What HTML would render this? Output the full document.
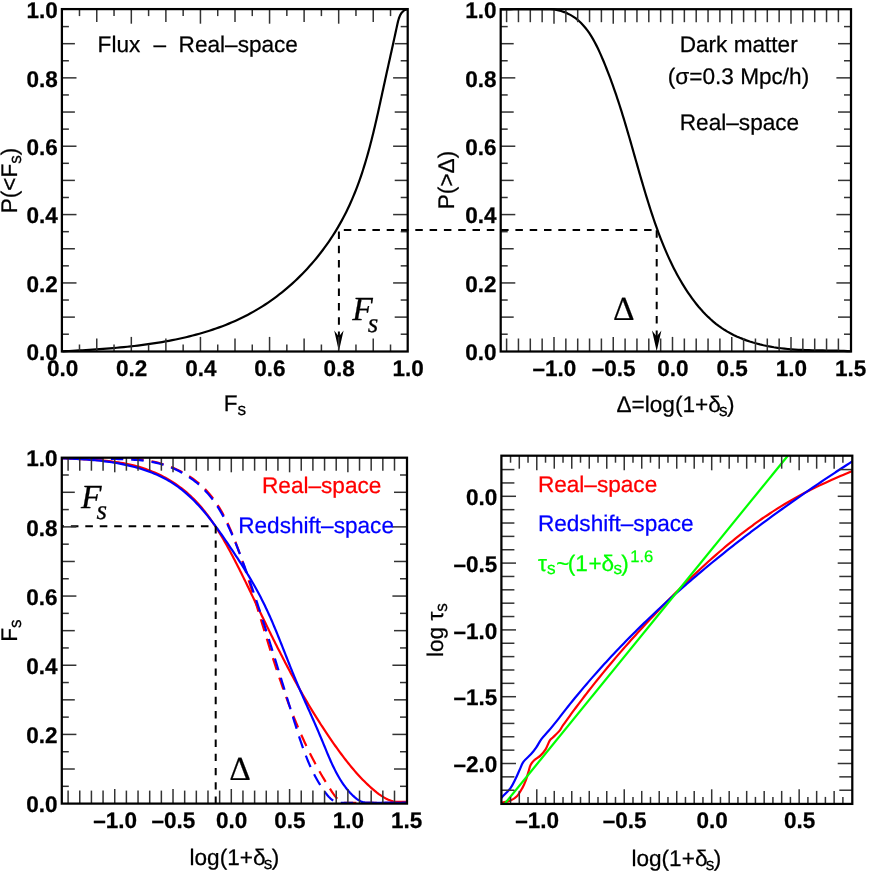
<!DOCTYPE html>
<html><head><meta charset="utf-8"><title>chart</title>
<style>html,body{margin:0;padding:0;background:#fff}svg{display:block;will-change:transform}text{text-rendering:geometricPrecision}</style></head>
<body>
<svg width="872" height="881" viewBox="0 0 872 881">
<rect width="872" height="881" fill="#fff"/>
<path d="M62.39 351.3L65.7 351.16L69.03 350.99L72.38 350.81L75.74 350.63L79.11 350.44L82.49 350.25L85.89 350.04L89.3 349.83L92.71 349.62L96.14 349.39L99.57 349.15L103.01 348.9L106.46 348.64L109.92 348.36L113.38 348.07L116.84 347.77L120.31 347.45L123.78 347.11L127.26 346.76L130.73 346.39L134.21 345.99L137.69 345.58L141.16 345.15L144.64 344.69L148.11 344.21L151.58 343.71L155.05 343.19L158.51 342.63L161.97 342.06L165.42 341.45L168.86 340.82L172.3 340.15L175.73 339.46L179.14 338.74L182.55 337.99L185.95 337.2L189.34 336.38L192.71 335.52L196.08 334.64L199.43 333.71L202.76 332.75L206.08 331.75L209.38 330.71L212.67 329.63L215.94 328.52L219.19 327.36L222.42 326.16L225.64 324.91L228.83 323.62L232 322.29L235.15 320.91L238.28 319.49L241.38 318.02L244.46 316.5L247.51 314.93L250.54 313.31L253.54 311.64L256.52 309.92L259.47 308.15L262.38 306.34L265.28 304.47L268.14 302.55L270.97 300.59L273.77 298.58L276.54 296.53L279.28 294.43L281.99 292.29L284.67 290.11L287.32 287.88L289.93 285.62L292.51 283.31L295.06 280.96L297.57 278.58L300.05 276.15L302.49 273.69L304.89 271.19L307.27 268.66L309.6 266.09L311.9 263.48L314.16 260.85L316.38 258.18L318.56 255.47L320.71 252.74L322.81 249.98L324.88 247.18L326.9 244.36L328.89 241.51L330.83 238.64L332.73 235.73L334.59 232.8L336.41 229.85L338.18 226.87L339.91 223.87L341.6 220.85L343.24 217.8L344.84 214.74L346.39 211.65L347.9 208.55L349.36 205.42L350.79 202.28L352.17 199.12L353.51 195.94L354.82 192.75L356.09 189.54L357.32 186.31L358.52 183.07L359.69 179.82L360.82 176.56L361.92 173.28L363 169.99L364.04 166.69L365.06 163.38L366.05 160.06L367.02 156.72L367.97 153.39L368.89 150.04L369.79 146.69L370.67 143.33L371.54 139.96L372.39 136.59L373.22 133.21L374.03 129.83L374.83 126.45L375.62 123.06L376.4 119.67L377.17 116.28L377.93 112.89L378.69 109.5L379.43 106.11L380.17 102.72L380.91 99.33L381.65 95.95L382.38 92.57L383.12 89.19L383.85 85.81L384.59 82.44L385.33 79.08L386.06 75.71L386.8 72.35L387.55 68.99L388.29 65.63L389.03 62.26L389.77 58.9L390.52 55.53L391.26 52.16L392.01 48.78L392.75 45.4L393.5 42.01L394.24 38.62L394.99 35.21L395.73 31.8L396.48 28.38L397.22 24.95L397.99 21.53L398.93 18.23L400.19 15.16L401.91 12.45L404.27 10.21L407.4 9.3" fill="none" stroke="#000" stroke-width="2.2" stroke-linejoin="round"/>
<path d="M500.87 9.31L503.94 9.43L507.15 9.44L510.49 9.37L513.93 9.24L517.46 9.1L521.07 9.1L524.73 9.1L528.43 9.1L532.16 9.1L535.9 9.1L539.63 9.1L543.34 9.1L547.02 9.1L550.63 9.1L554.18 9.43L557.64 10.13L561.01 11.02L564.25 12.1L567.38 13.39L570.36 14.87L573.19 16.57L575.88 18.45L578.43 20.53L580.85 22.77L583.14 25.17L585.32 27.72L587.39 30.4L589.36 33.2L591.24 36.11L593.03 39.12L594.74 42.2L596.38 45.37L597.96 48.59L599.48 51.85L600.95 55.15L602.38 58.47L603.78 61.8L605.14 65.13L606.48 68.47L607.79 71.8L609.07 75.14L610.32 78.48L611.55 81.82L612.76 85.16L613.95 88.51L615.11 91.85L616.25 95.2L617.37 98.55L618.48 101.9L619.57 105.25L620.64 108.6L621.69 111.95L622.73 115.31L623.76 118.66L624.78 122.02L625.78 125.37L626.78 128.73L627.76 132.08L628.74 135.44L629.71 138.8L630.68 142.16L631.64 145.51L632.6 148.87L633.55 152.23L634.5 155.59L635.46 158.94L636.41 162.3L637.36 165.66L638.32 169.01L639.28 172.37L640.25 175.72L641.22 179.08L642.2 182.43L643.18 185.78L644.18 189.13L645.18 192.48L646.2 195.83L647.22 199.18L648.26 202.53L649.32 205.87L650.39 209.22L651.48 212.56L652.58 215.9L653.7 219.24L654.85 222.57L656.01 225.9L657.2 229.22L658.41 232.53L659.65 235.84L660.91 239.13L662.21 242.42L663.53 245.69L664.89 248.95L666.28 252.19L667.7 255.42L669.16 258.63L670.66 261.83L672.2 265.01L673.77 268.16L675.39 271.3L677.05 274.41L678.76 277.5L680.51 280.56L682.31 283.6L684.16 286.62L686.05 289.6L688 292.55L690 295.47L692.06 298.35L694.17 301.18L696.34 303.95L698.57 306.68L700.86 309.34L703.21 311.94L705.63 314.47L708.11 316.92L710.65 319.29L713.26 321.58L715.94 323.78L718.69 325.89L721.51 327.9L724.41 329.8L727.37 331.6L730.41 333.3L733.5 334.9L736.65 336.4L739.86 337.81L743.11 339.13L746.41 340.36L749.75 341.5L753.12 342.56L756.53 343.53L759.97 344.43L763.42 345.25L766.9 345.99L770.39 346.66L773.89 347.27L777.4 347.8L780.91 348.27L784.41 348.68L787.91 349.03L791.41 349.32L794.91 349.57L798.41 349.78L801.9 349.95L805.4 350.08L808.89 350.19L812.39 350.28L815.88 350.35L819.38 350.41L822.88 350.46L826.38 350.51L829.88 350.57L833.39 350.63L836.9 350.71L840.41 350.8L843.93 350.93L847.46 351.08L850.99 351.26" fill="none" stroke="#000" stroke-width="2.2" stroke-linejoin="round"/>
<clipPath id="c3"><rect x="61.8" y="457.7" width="345.2" height="345.9"/></clipPath>
<g clip-path="url(#c3)">
<path d="M56.44 457.93L58.78 458.07L61.12 458.19L63.47 458.31L65.83 458.43L68.19 458.54L70.56 458.64L72.93 458.75L75.31 458.85L77.69 458.96L80.07 459.07L82.45 459.19L84.84 459.31L87.23 459.43L89.62 459.57L92.01 459.72L94.39 459.87L96.78 460.04L99.17 460.23L101.56 460.43L103.94 460.65L106.32 460.88L108.7 461.14L111.07 461.42L113.44 461.72L115.8 462.04L118.16 462.39L120.51 462.77L122.86 463.17L125.2 463.61L127.53 464.08L129.86 464.58L132.17 465.11L134.48 465.68L136.78 466.28L139.06 466.93L141.34 467.61L143.6 468.34L145.86 469.1L148.1 469.91L150.32 470.76L152.54 471.65L154.73 472.58L156.91 473.55L159.07 474.56L161.22 475.61L163.34 476.7L165.44 477.83L167.52 479L169.58 480.2L171.61 481.44L173.62 482.72L175.6 484.03L177.56 485.38L179.49 486.77L181.39 488.19L183.26 489.65L185.1 491.14L186.91 492.66L188.68 494.22L190.43 495.82L192.14 497.44L193.82 499.1L195.47 500.79L197.09 502.51L198.68 504.25L200.24 506.02L201.78 507.82L203.29 509.64L204.77 511.49L206.23 513.36L207.67 515.25L209.08 517.16L210.47 519.1L211.84 521.05L213.19 523.01L214.51 525L215.82 527L217.11 529.02L218.39 531.05L219.64 533.09L220.88 535.14L222.11 537.2L223.32 539.28L224.51 541.36L225.7 543.45L226.87 545.54L228.03 547.64L229.18 549.75L230.32 551.85L231.45 553.96L232.57 556.08L233.68 558.2L234.79 560.32L235.88 562.44L236.97 564.56L238.05 566.69L239.13 568.82L240.2 570.95L241.26 573.09L242.32 575.22L243.37 577.36L244.42 579.5L245.47 581.64L246.51 583.78L247.55 585.92L248.58 588.06L249.61 590.21L250.64 592.35L251.67 594.49L252.7 596.64L253.73 598.78L254.75 600.93L255.78 603.07L256.81 605.22L257.83 607.36L258.86 609.5L259.89 611.64L260.92 613.79L261.96 615.93L262.99 618.07L264.03 620.2L265.06 622.34L266.1 624.48L267.14 626.61L268.19 628.75L269.23 630.88L270.28 633.01L271.33 635.14L272.39 637.27L273.44 639.4L274.5 641.52L275.57 643.65L276.63 645.77L277.7 647.89L278.77 650.01L279.85 652.12L280.93 654.24L282.01 656.35L283.1 658.46L284.19 660.57L285.29 662.67L286.39 664.78L287.5 666.88L288.61 668.98L289.72 671.07L290.84 673.16L291.97 675.26L293.1 677.34L294.23 679.43L295.37 681.51L296.52 683.59L297.67 685.67L298.83 687.74L299.99 689.81L301.16 691.88L302.34 693.94L303.52 696L304.71 698.06L305.91 700.11L307.11 702.16L308.32 704.21L309.54 706.25L310.76 708.29L312 710.33L313.23 712.36L314.48 714.39L315.73 716.41L317 718.43L318.27 720.45L319.54 722.46L320.83 724.47L322.13 726.47L323.43 728.47L324.74 730.46L326.06 732.45L327.39 734.44L328.73 736.42L330.08 738.4L331.43 740.37L332.8 742.33L334.18 744.3L335.56 746.25L336.96 748.21L338.36 750.15L339.78 752.09L341.2 754.02L342.64 755.95L344.09 757.86L345.56 759.77L347.04 761.66L348.53 763.54L350.04 765.4L351.56 767.25L353.1 769.08L354.65 770.89L356.22 772.69L357.81 774.46L359.42 776.22L361.04 777.95L362.69 779.66L364.35 781.34L366.04 783L367.75 784.63L369.48 786.23L371.23 787.81L373 789.35L374.8 790.86L376.62 792.34L378.48 793.77L380.37 795.14L382.3 796.43L384.27 797.64L386.3 798.74L388.39 799.73L390.54 800.59L392.76 801.31L395.05 801.87L397.42 801.9L399.88 801.9L408 801.9" fill="none" stroke="#ff0000" stroke-width="2.2" stroke-linejoin="round"/>
<path d="M56.42 457.9L58.69 457.95L60.97 458.1L63.25 458.23L65.54 458.33L67.83 458.41L70.12 458.47L72.42 458.51L74.73 458.54L77.03 458.55L79.34 458.54L81.65 458.53L83.97 458.5L86.28 458.47L88.6 458.43L90.92 458.39L93.24 458.34L95.56 458.29L97.89 458.25L100.21 458.2L102.53 458.16L104.86 458.12L107.18 458.09L109.5 458.07L111.82 458.06L114.15 458.06L116.46 458.08L118.78 458.11L121.1 458.16L123.41 458.23L125.72 458.32L128.03 458.43L130.33 458.56L132.63 458.73L134.93 458.91L137.22 459.13L139.51 459.38L141.8 459.66L144.08 459.98L146.35 460.33L148.62 460.72L150.88 461.15L153.14 461.62L155.39 462.13L157.63 462.69L159.87 463.29L162.1 463.94L164.32 464.63L166.52 465.37L168.71 466.15L170.88 466.98L173.04 467.85L175.18 468.77L177.29 469.73L179.39 470.74L181.45 471.79L183.5 472.88L185.51 474.02L187.5 475.2L189.45 476.43L191.37 477.69L193.25 479.01L195.1 480.36L196.91 481.76L198.68 483.2L200.41 484.68L202.1 486.21L203.74 487.78L205.33 489.39L206.89 491.04L208.4 492.72L209.87 494.45L211.3 496.21L212.7 498L214.05 499.83L215.37 501.69L216.66 503.57L217.91 505.49L219.13 507.43L220.32 509.4L221.48 511.4L222.61 513.41L223.71 515.45L224.78 517.51L225.82 519.59L226.85 521.69L227.85 523.8L228.82 525.92L229.77 528.07L230.71 530.22L231.62 532.38L232.52 534.55L233.4 536.73L234.26 538.92L235.11 541.11L235.95 543.31L236.77 545.51L237.58 547.71L238.38 549.91L239.17 552.11L239.95 554.3L240.73 556.5L241.49 558.69L242.25 560.88L243 563.07L243.75 565.26L244.49 567.45L245.22 569.63L245.94 571.82L246.66 574L247.38 576.18L248.09 578.37L248.79 580.55L249.49 582.73L250.19 584.92L250.88 587.1L251.57 589.28L252.25 591.47L252.94 593.65L253.62 595.84L254.29 598.02L254.97 600.21L255.65 602.4L256.32 604.59L256.99 606.78L257.66 608.97L258.34 611.16L259.01 613.36L259.68 615.55L260.35 617.75L261.02 619.95L261.7 622.14L262.37 624.34L263.04 626.54L263.72 628.74L264.39 630.95L265.07 633.15L265.75 635.35L266.43 637.55L267.11 639.75L267.8 641.95L268.48 644.16L269.17 646.36L269.86 648.56L270.56 650.76L271.25 652.96L271.95 655.16L272.65 657.36L273.36 659.56L274.07 661.76L274.78 663.96L275.5 666.15L276.22 668.35L276.95 670.54L277.68 672.73L278.41 674.93L279.15 677.12L279.9 679.3L280.65 681.49L281.4 683.68L282.16 685.86L282.93 688.04L283.7 690.22L284.47 692.4L285.26 694.57L286.05 696.74L286.84 698.91L287.65 701.08L288.46 703.25L289.27 705.41L290.1 707.57L290.93 709.73L291.77 711.88L292.61 714.03L293.47 716.18L294.33 718.32L295.2 720.47L296.08 722.6L296.97 724.74L297.86 726.87L298.77 729L299.68 731.12L300.6 733.24L301.54 735.35L302.48 737.46L303.43 739.57L304.39 741.67L305.36 743.76L306.35 745.85L307.34 747.94L308.34 750.01L309.35 752.09L310.38 754.15L311.42 756.22L312.46 758.27L313.52 760.32L314.59 762.36L315.67 764.39L316.77 766.42L317.87 768.44L318.99 770.46L320.12 772.46L321.27 774.46L322.42 776.45L323.59 778.43L324.77 780.41L325.97 782.37L327.18 784.33L328.4 786.28L329.64 788.21L330.89 790.14L332.15 792.07L333.44 793.97L334.78 795.82L336.2 797.57L337.74 799.18L339.44 800.6L341.33 801.8L343.44 802.72L345.82 802.9L408 802.9" fill="none" stroke="#ff0000" stroke-width="2.2" stroke-linejoin="round" stroke-dasharray="12.4 8" stroke-dashoffset="6.7"/>
<path d="M56.66 458.26L58.84 458.31L61.04 458.35L63.25 458.41L65.48 458.47L67.72 458.54L69.97 458.62L72.24 458.71L74.51 458.8L76.79 458.91L79.09 459.03L81.39 459.16L83.7 459.31L86.01 459.47L88.33 459.64L90.66 459.82L92.99 460.03L95.32 460.24L97.65 460.48L99.99 460.73L102.33 461L104.66 461.29L107 461.6L109.33 461.92L111.66 462.27L113.99 462.64L116.32 463.03L118.64 463.45L120.95 463.88L123.26 464.35L125.55 464.83L127.85 465.34L130.13 465.88L132.4 466.45L134.66 467.04L136.91 467.66L139.14 468.31L141.37 468.98L143.58 469.69L145.77 470.43L147.95 471.2L150.11 472L152.26 472.83L154.38 473.7L156.49 474.6L158.58 475.54L160.64 476.51L162.69 477.52L164.71 478.56L166.71 479.64L168.69 480.76L170.64 481.92L172.56 483.12L174.46 484.35L176.33 485.63L178.18 486.95L180 488.3L181.8 489.69L183.57 491.11L185.31 492.57L187.04 494.06L188.74 495.59L190.42 497.14L192.08 498.72L193.72 500.33L195.33 501.97L196.93 503.64L198.51 505.33L200.07 507.04L201.61 508.77L203.14 510.53L204.64 512.3L206.14 514.1L207.61 515.91L209.08 517.74L210.52 519.58L211.96 521.44L213.38 523.31L214.78 525.2L216.18 527.09L217.56 528.99L218.94 530.91L220.3 532.82L221.66 534.75L223 536.68L224.34 538.61L225.66 540.55L226.99 542.48L228.3 544.42L229.61 546.36L230.91 548.29L232.21 550.22L233.5 552.16L234.78 554.09L236.06 556.02L237.33 557.95L238.59 559.89L239.84 561.82L241.08 563.76L242.32 565.7L243.55 567.64L244.77 569.58L245.98 571.53L247.18 573.48L248.37 575.44L249.55 577.4L250.72 579.37L251.87 581.34L253.02 583.32L254.16 585.3L255.28 587.29L256.39 589.29L257.49 591.29L258.58 593.31L259.66 595.33L260.72 597.36L261.77 599.4L262.8 601.45L263.82 603.51L264.83 605.58L265.82 607.66L266.81 609.75L267.78 611.84L268.74 613.95L269.69 616.06L270.63 618.17L271.56 620.3L272.48 622.43L273.39 624.57L274.29 626.71L275.19 628.85L276.08 631L276.97 633.16L277.85 635.32L278.72 637.48L279.59 639.64L280.46 641.81L281.32 643.97L282.18 646.14L283.03 648.31L283.89 650.48L284.74 652.65L285.6 654.82L286.45 656.99L287.3 659.15L288.16 661.32L289.02 663.48L289.88 665.64L290.74 667.8L291.6 669.95L292.47 672.1L293.34 674.24L294.22 676.38L295.1 678.52L295.99 680.64L296.89 682.77L297.79 684.88L298.69 687L299.6 689.1L300.52 691.21L301.43 693.31L302.36 695.41L303.28 697.51L304.21 699.6L305.14 701.7L306.07 703.79L307 705.88L307.94 707.98L308.87 710.07L309.81 712.17L310.74 714.27L311.68 716.37L312.61 718.47L313.54 720.57L314.47 722.68L315.4 724.8L316.32 726.92L317.25 729.04L318.17 731.17L319.08 733.31L319.99 735.45L320.9 737.6L321.8 739.76L322.7 741.92L323.59 744.09L324.48 746.27L325.38 748.45L326.28 750.62L327.18 752.8L328.09 754.97L329.01 757.14L329.95 759.29L330.9 761.44L331.87 763.58L332.85 765.7L333.86 767.8L334.9 769.88L335.96 771.95L337.05 773.99L338.17 776L339.32 777.99L340.51 779.95L341.74 781.88L343.01 783.77L344.32 785.63L345.67 787.46L347.07 789.24L348.53 790.98L350.03 792.67L351.59 794.33L353.21 795.92L354.89 797.43L356.66 798.83L358.51 800.08L360.47 801.16L362.53 802.04L364.72 802.68L367.04 802.9L369.5 802.9L372.12 802.9L408 802.9" fill="none" stroke="#0000ff" stroke-width="2.2" stroke-linejoin="round"/>
<path d="M56.4 457.91L58.73 457.9L61.06 457.9L63.38 457.9L65.7 457.9L68.02 457.9L70.33 457.9L72.64 457.9L74.94 457.9L77.25 457.9L79.55 457.9L81.85 457.9L84.15 457.9L86.45 457.9L88.74 457.9L91.04 457.94L93.34 458.03L95.63 458.13L97.93 458.22L100.23 458.32L102.52 458.42L104.82 458.52L107.13 458.62L109.43 458.72L111.73 458.82L114.04 458.91L116.35 458.99L118.67 459.07L120.98 459.16L123.3 459.24L125.61 459.33L127.93 459.44L130.25 459.55L132.56 459.68L134.87 459.83L137.18 460.01L139.49 460.21L141.79 460.44L144.08 460.7L146.37 461L148.65 461.34L150.93 461.72L153.2 462.15L155.46 462.63L157.7 463.16L159.94 463.75L162.17 464.39L164.38 465.08L166.58 465.82L168.76 466.62L170.93 467.46L173.07 468.36L175.19 469.3L177.29 470.3L179.37 471.34L181.42 472.42L183.44 473.56L185.44 474.74L187.4 475.96L189.34 477.23L191.24 478.54L193.1 479.9L194.93 481.29L196.72 482.73L198.47 484.21L200.18 485.73L201.85 487.29L203.47 488.89L205.06 490.52L206.6 492.19L208.1 493.89L209.57 495.63L211 497.4L212.39 499.2L213.74 501.04L215.07 502.9L216.36 504.78L217.61 506.7L218.84 508.63L220.04 510.6L221.21 512.58L222.35 514.59L223.46 516.61L224.55 518.65L225.62 520.72L226.66 522.79L227.68 524.89L228.68 526.99L229.66 529.11L230.62 531.24L231.57 533.38L232.5 535.53L233.41 537.69L234.31 539.86L235.2 542.02L236.07 544.2L236.93 546.37L237.79 548.55L238.63 550.73L239.47 552.9L240.3 555.08L241.12 557.26L241.94 559.43L242.75 561.6L243.55 563.78L244.35 565.95L245.14 568.12L245.93 570.3L246.71 572.47L247.48 574.64L248.25 576.81L249.01 578.99L249.77 581.16L250.53 583.33L251.28 585.51L252.02 587.68L252.76 589.85L253.5 592.03L254.24 594.2L254.97 596.38L255.7 598.56L256.42 600.73L257.14 602.91L257.86 605.09L258.58 607.27L259.3 609.45L260.01 611.64L260.72 613.82L261.43 616L262.14 618.19L262.85 620.38L263.55 622.56L264.25 624.75L264.95 626.94L265.65 629.13L266.35 631.32L267.05 633.52L267.74 635.71L268.43 637.9L269.13 640.1L269.82 642.29L270.51 644.49L271.2 646.69L271.88 648.89L272.57 651.09L273.26 653.29L273.94 655.49L274.63 657.69L275.31 659.89L275.99 662.1L276.67 664.3L277.36 666.5L278.04 668.71L278.72 670.92L279.4 673.12L280.08 675.33L280.76 677.54L281.44 679.75L282.12 681.96L282.8 684.17L283.48 686.38L284.16 688.59L284.84 690.8L285.53 693.01L286.21 695.23L286.89 697.44L287.57 699.65L288.25 701.87L288.94 704.08L289.62 706.3L290.31 708.52L290.99 710.73L291.68 712.95L292.37 715.17L293.06 717.39L293.75 719.6L294.44 721.82L295.13 724.04L295.82 726.26L296.52 728.48L297.22 730.7L297.92 732.92L298.63 735.13L299.35 737.34L300.08 739.55L300.82 741.75L301.56 743.94L302.32 746.13L303.09 748.32L303.88 750.49L304.68 752.66L305.5 754.82L306.34 756.97L307.2 759.11L308.07 761.23L308.97 763.35L309.89 765.45L310.83 767.54L311.8 769.61L312.8 771.67L313.82 773.72L314.87 775.75L315.95 777.76L317.07 779.75L318.21 781.73L319.39 783.68L320.6 785.62L321.85 787.54L323.13 789.43L324.45 791.3L325.81 793.15L327.22 794.96L328.71 796.69L330.28 798.3L331.98 799.75L333.82 800.99L335.82 801.98L338.01 802.68L340.42 802.9L343.06 802.9L408 802.9" fill="none" stroke="#0000ff" stroke-width="2.2" stroke-linejoin="round" stroke-dasharray="12.4 8" stroke-dashoffset="6.7"/>
</g>
<clipPath id="c4"><rect x="501.4" y="455.7" width="350.9" height="348.2"/></clipPath>
<g clip-path="url(#c4)">
<path d="M501.4 803C501.62 802.93 501.18 803.02 502.7 802.6C504.22 802.18 508.08 801.62 510.5 800.5C512.92 799.38 515.23 797.97 517.2 795.9C519.17 793.83 520.83 790.77 522.3 788.1C523.77 785.43 524.97 782.65 526 779.9C527.03 777.15 527.73 774.1 528.5 771.6C529.27 769.1 529.65 766.78 530.6 764.9C531.55 763.02 532.57 761.85 534.2 760.3C535.83 758.75 538.5 757.42 540.4 755.6C542.3 753.78 544.05 751.9 545.6 749.4C547.15 746.9 548.5 742.58 549.7 740.6C550.9 738.62 551.25 739.03 552.8 737.5C554.35 735.97 557.28 733.45 559 731.4C560.72 729.35 561.13 728.02 563.1 725.2C565.07 722.38 568.88 717.13 570.82 714.45C572.76 711.77 573.43 710.89 574.75 709.12C576.06 707.35 577.38 705.59 578.71 703.83C580.03 702.07 581.36 700.31 582.7 698.56C584.04 696.81 585.39 695.06 586.74 693.32C588.09 691.58 589.45 689.84 590.81 688.11C592.17 686.37 593.54 684.64 594.92 682.92C596.29 681.2 597.67 679.48 599.06 677.76C600.45 676.05 601.84 674.34 603.24 672.63C604.63 670.93 606.04 669.23 607.45 667.53C608.86 665.84 610.27 664.15 611.69 662.46C613.11 660.77 614.54 659.09 615.97 657.41C617.4 655.73 618.84 654.06 620.28 652.39C621.72 650.72 623.17 649.05 624.63 647.39C626.08 645.73 627.54 644.08 629 642.43C630.46 640.77 631.93 639.13 633.41 637.48C634.88 635.84 636.36 634.2 637.84 632.57C639.33 630.93 640.82 629.3 642.31 627.67C643.8 626.05 645.3 624.43 646.81 622.81C648.31 621.19 649.82 619.58 651.33 617.97C652.84 616.36 654.36 614.75 655.88 613.15C657.41 611.55 658.93 609.95 660.47 608.36C662 606.77 663.53 605.18 665.07 603.59C666.61 602.01 668.16 600.43 669.71 598.85C671.26 597.27 672.81 595.7 674.37 594.13C675.93 592.56 677.49 591 679.06 589.44C680.63 587.88 682.2 586.33 683.78 584.78C685.36 583.23 686.94 581.69 688.53 580.15C690.12 578.62 691.72 577.09 693.32 575.56C694.92 574.04 696.52 572.52 698.14 571.01C699.75 569.5 701.37 568 702.99 566.51C704.62 565.01 706.25 563.52 707.88 562.04C709.52 560.57 711.17 559.09 712.82 557.63C714.47 556.17 716.13 554.72 717.79 553.27C719.46 551.83 721.13 550.39 722.81 548.97C724.49 547.54 726.18 546.13 727.88 544.72C729.57 543.32 731.27 541.92 732.99 540.54C734.7 539.15 736.42 537.78 738.14 536.42C739.87 535.06 741.61 533.7 743.35 532.37C745.1 531.03 746.85 529.7 748.61 528.38C750.38 527.07 752.15 525.77 753.93 524.48C755.71 523.19 757.5 521.91 759.3 520.65C761.09 519.38 762.9 518.13 764.72 516.9C766.54 515.66 768.37 514.44 770.21 513.23C772.04 512.02 773.89 510.83 775.75 509.65C777.61 508.47 779.48 507.31 781.36 506.16C783.23 505.01 785.12 503.88 787.02 502.76C788.92 501.64 790.83 500.54 792.74 499.45C794.66 498.35 796.59 497.28 798.52 496.22C800.46 495.16 802.4 494.11 804.35 493.08C806.31 492.05 808.27 491.03 810.24 490.02C812.21 489.02 814.19 488.03 816.17 487.06C818.16 486.08 820.15 485.12 822.16 484.18C824.16 483.23 826.17 482.3 828.19 481.38C830.21 480.46 832.23 479.56 834.26 478.67C836.3 477.78 838.34 476.9 840.38 476.04C842.43 475.17 844.48 474.33 846.54 473.49C848.6 472.66 851.71 471.44 852.74 471.03" fill="none" stroke="#ff0000" stroke-width="2.2" stroke-linejoin="round"/>
<path d="M501.4 797.6C501.53 797.48 500.68 798.48 502.2 796.9C503.72 795.32 508.27 791.12 510.5 788.1C512.73 785.08 514.05 781.9 515.6 778.8C517.15 775.7 518.5 772.33 519.8 769.5C521.1 766.67 521.52 764.37 523.4 761.8C525.28 759.23 528.95 756.5 531.1 754.1C533.25 751.7 534.58 749.9 536.3 747.4C538.02 744.9 539.33 741.87 541.4 739.1C543.47 736.33 546.03 733.97 548.7 730.8C551.37 727.63 555.27 722.78 557.44 720.08C559.6 717.37 560.26 716.4 561.68 714.57C563.1 712.74 564.53 710.92 565.97 709.1C567.41 707.28 568.85 705.48 570.3 703.67C571.75 701.87 573.21 700.07 574.68 698.29C576.15 696.5 577.62 694.71 579.1 692.94C580.58 691.16 582.07 689.39 583.56 687.63C585.06 685.86 586.56 684.11 588.07 682.36C589.58 680.61 591.09 678.86 592.62 677.13C594.14 675.39 595.67 673.66 597.2 671.93C598.74 670.21 600.28 668.49 601.83 666.78C603.38 665.06 604.93 663.36 606.5 661.66C608.06 659.96 609.63 658.27 611.2 656.58C612.78 654.89 614.36 653.21 615.95 651.53C617.53 649.86 619.13 648.19 620.73 646.53C622.33 644.86 623.93 643.21 625.54 641.56C627.16 639.9 628.77 638.26 630.4 636.62C632.02 634.98 633.65 633.35 635.29 631.72C636.92 630.09 638.57 628.47 640.21 626.86C641.86 625.24 643.51 623.63 645.17 622.03C646.83 620.42 648.5 618.82 650.17 617.23C651.84 615.64 653.51 614.05 655.19 612.47C656.87 610.89 658.56 609.31 660.25 607.74C661.94 606.17 663.64 604.61 665.34 603.05C667.04 601.49 668.75 599.94 670.46 598.39C672.18 596.84 673.89 595.3 675.62 593.76C677.34 592.22 679.07 590.69 680.8 589.16C682.53 587.64 684.27 586.12 686.01 584.6C687.75 583.08 689.5 581.57 691.25 580.07C693 578.56 694.76 577.06 696.52 575.57C698.28 574.07 700.05 572.58 701.82 571.1C703.58 569.61 705.36 568.13 707.14 566.66C708.92 565.19 710.7 563.72 712.49 562.25C714.27 560.79 716.07 559.33 717.86 557.87C719.66 556.42 721.46 554.97 723.26 553.53C725.07 552.08 726.87 550.64 728.69 549.21C730.5 547.77 732.31 546.34 734.13 544.92C735.95 543.49 737.78 542.07 739.6 540.66C741.43 539.24 743.26 537.83 745.1 536.42C746.93 535.02 748.77 533.62 750.61 532.22C752.45 530.82 754.3 529.43 756.15 528.04C758 526.65 759.85 525.27 761.7 523.89C763.56 522.51 765.42 521.14 767.28 519.77C769.14 518.4 771.01 517.04 772.88 515.67C774.75 514.31 776.62 512.96 778.49 511.61C780.37 510.25 782.24 508.91 784.12 507.56C786 506.22 787.89 504.88 789.77 503.54C791.66 502.21 793.55 500.88 795.44 499.55C797.33 498.23 799.23 496.9 801.12 495.58C803.02 494.27 804.92 492.95 806.82 491.64C808.72 490.33 810.63 489.03 812.54 487.72C814.44 486.42 816.35 485.12 818.26 483.83C820.17 482.54 822.09 481.24 824 479.96C825.92 478.67 827.84 477.39 829.76 476.11C831.68 474.83 833.6 473.56 835.52 472.29C837.45 471.02 839.38 469.75 841.3 468.48C843.23 467.22 845.16 465.96 847.09 464.71C849.02 463.45 851.93 461.57 852.89 460.95" fill="none" stroke="#0000ff" stroke-width="2.2" stroke-linejoin="round"/>
<path d="M504.6 803.9L787.6 456" fill="none" stroke="#00ff00" stroke-width="2.2" stroke-linejoin="round"/>
</g>
<line x1="338.9" y1="229.9" x2="656.7" y2="229.9" stroke="#000" stroke-width="2" stroke-dasharray="7.5 6.8" stroke-dashoffset="9.4"/>
<line x1="338.9" y1="231.4" x2="338.9" y2="337" stroke="#000" stroke-width="2" stroke-dasharray="7.5 6.8"/>
<line x1="656.7" y1="230.3" x2="656.7" y2="337" stroke="#000" stroke-width="2" stroke-dasharray="7.5 6.8"/>
<path d="M338.9 351.2 L334.2 330.6 L338.9 336.4 L343.6 330.6 Z" fill="#000"/>
<path d="M656.7 351.2 L652 330.6 L656.7 336.4 L661.4 330.6 Z" fill="#000"/>
<line x1="61.8" y1="526.2" x2="215.7" y2="526.2" stroke="#000" stroke-width="2" stroke-dasharray="7.6 6.85" stroke-dashoffset="5.4"/>
<line x1="215.7" y1="526.2" x2="215.7" y2="803.6" stroke="#000" stroke-width="2" stroke-dasharray="7.4 6.82"/>
<line x1="79.48" y1="351.5" x2="79.48" y2="344.5" stroke="#333" stroke-width="1.5"/>
<line x1="79.48" y1="9.1" x2="79.48" y2="16.1" stroke="#333" stroke-width="1.5"/>
<line x1="96.76" y1="351.5" x2="96.76" y2="338.5" stroke="#333" stroke-width="1.5"/>
<line x1="96.76" y1="9.1" x2="96.76" y2="22.1" stroke="#333" stroke-width="1.5"/>
<line x1="114.04" y1="351.5" x2="114.04" y2="344.5" stroke="#333" stroke-width="1.5"/>
<line x1="114.04" y1="9.1" x2="114.04" y2="16.1" stroke="#333" stroke-width="1.5"/>
<line x1="131.32" y1="351.5" x2="131.32" y2="336.9" stroke="#333" stroke-width="1.5"/>
<line x1="131.32" y1="9.1" x2="131.32" y2="23.7" stroke="#333" stroke-width="1.5"/>
<line x1="148.6" y1="351.5" x2="148.6" y2="344.5" stroke="#333" stroke-width="1.5"/>
<line x1="148.6" y1="9.1" x2="148.6" y2="16.1" stroke="#333" stroke-width="1.5"/>
<line x1="165.88" y1="351.5" x2="165.88" y2="338.5" stroke="#333" stroke-width="1.5"/>
<line x1="165.88" y1="9.1" x2="165.88" y2="22.1" stroke="#333" stroke-width="1.5"/>
<line x1="183.16" y1="351.5" x2="183.16" y2="344.5" stroke="#333" stroke-width="1.5"/>
<line x1="183.16" y1="9.1" x2="183.16" y2="16.1" stroke="#333" stroke-width="1.5"/>
<line x1="200.44" y1="351.5" x2="200.44" y2="336.9" stroke="#333" stroke-width="1.5"/>
<line x1="200.44" y1="9.1" x2="200.44" y2="23.7" stroke="#333" stroke-width="1.5"/>
<line x1="217.72" y1="351.5" x2="217.72" y2="344.5" stroke="#333" stroke-width="1.5"/>
<line x1="217.72" y1="9.1" x2="217.72" y2="16.1" stroke="#333" stroke-width="1.5"/>
<line x1="235" y1="351.5" x2="235" y2="338.5" stroke="#333" stroke-width="1.5"/>
<line x1="235" y1="9.1" x2="235" y2="22.1" stroke="#333" stroke-width="1.5"/>
<line x1="252.28" y1="351.5" x2="252.28" y2="344.5" stroke="#333" stroke-width="1.5"/>
<line x1="252.28" y1="9.1" x2="252.28" y2="16.1" stroke="#333" stroke-width="1.5"/>
<line x1="269.56" y1="351.5" x2="269.56" y2="336.9" stroke="#333" stroke-width="1.5"/>
<line x1="269.56" y1="9.1" x2="269.56" y2="23.7" stroke="#333" stroke-width="1.5"/>
<line x1="286.84" y1="351.5" x2="286.84" y2="344.5" stroke="#333" stroke-width="1.5"/>
<line x1="286.84" y1="9.1" x2="286.84" y2="16.1" stroke="#333" stroke-width="1.5"/>
<line x1="304.12" y1="351.5" x2="304.12" y2="338.5" stroke="#333" stroke-width="1.5"/>
<line x1="304.12" y1="9.1" x2="304.12" y2="22.1" stroke="#333" stroke-width="1.5"/>
<line x1="321.4" y1="351.5" x2="321.4" y2="344.5" stroke="#333" stroke-width="1.5"/>
<line x1="321.4" y1="9.1" x2="321.4" y2="16.1" stroke="#333" stroke-width="1.5"/>
<line x1="338.68" y1="351.5" x2="338.68" y2="336.9" stroke="#333" stroke-width="1.5"/>
<line x1="338.68" y1="9.1" x2="338.68" y2="23.7" stroke="#333" stroke-width="1.5"/>
<line x1="355.96" y1="351.5" x2="355.96" y2="344.5" stroke="#333" stroke-width="1.5"/>
<line x1="355.96" y1="9.1" x2="355.96" y2="16.1" stroke="#333" stroke-width="1.5"/>
<line x1="373.24" y1="351.5" x2="373.24" y2="338.5" stroke="#333" stroke-width="1.5"/>
<line x1="373.24" y1="9.1" x2="373.24" y2="22.1" stroke="#333" stroke-width="1.5"/>
<line x1="390.52" y1="351.5" x2="390.52" y2="344.5" stroke="#333" stroke-width="1.5"/>
<line x1="390.52" y1="9.1" x2="390.52" y2="16.1" stroke="#333" stroke-width="1.5"/>
<line x1="61.9" y1="334.21" x2="68.9" y2="334.21" stroke="#333" stroke-width="1.5"/>
<line x1="407.7" y1="334.21" x2="400.7" y2="334.21" stroke="#333" stroke-width="1.5"/>
<line x1="61.9" y1="317.12" x2="74.9" y2="317.12" stroke="#333" stroke-width="1.5"/>
<line x1="407.7" y1="317.12" x2="394.7" y2="317.12" stroke="#333" stroke-width="1.5"/>
<line x1="61.9" y1="300.03" x2="68.9" y2="300.03" stroke="#333" stroke-width="1.5"/>
<line x1="407.7" y1="300.03" x2="400.7" y2="300.03" stroke="#333" stroke-width="1.5"/>
<line x1="61.9" y1="282.94" x2="76.5" y2="282.94" stroke="#333" stroke-width="1.5"/>
<line x1="407.7" y1="282.94" x2="393.1" y2="282.94" stroke="#333" stroke-width="1.5"/>
<line x1="61.9" y1="265.85" x2="68.9" y2="265.85" stroke="#333" stroke-width="1.5"/>
<line x1="407.7" y1="265.85" x2="400.7" y2="265.85" stroke="#333" stroke-width="1.5"/>
<line x1="61.9" y1="248.76" x2="74.9" y2="248.76" stroke="#333" stroke-width="1.5"/>
<line x1="407.7" y1="248.76" x2="394.7" y2="248.76" stroke="#333" stroke-width="1.5"/>
<line x1="61.9" y1="231.67" x2="68.9" y2="231.67" stroke="#333" stroke-width="1.5"/>
<line x1="407.7" y1="231.67" x2="400.7" y2="231.67" stroke="#333" stroke-width="1.5"/>
<line x1="61.9" y1="214.58" x2="76.5" y2="214.58" stroke="#333" stroke-width="1.5"/>
<line x1="407.7" y1="214.58" x2="393.1" y2="214.58" stroke="#333" stroke-width="1.5"/>
<line x1="61.9" y1="197.49" x2="68.9" y2="197.49" stroke="#333" stroke-width="1.5"/>
<line x1="407.7" y1="197.49" x2="400.7" y2="197.49" stroke="#333" stroke-width="1.5"/>
<line x1="61.9" y1="180.4" x2="74.9" y2="180.4" stroke="#333" stroke-width="1.5"/>
<line x1="407.7" y1="180.4" x2="394.7" y2="180.4" stroke="#333" stroke-width="1.5"/>
<line x1="61.9" y1="163.31" x2="68.9" y2="163.31" stroke="#333" stroke-width="1.5"/>
<line x1="407.7" y1="163.31" x2="400.7" y2="163.31" stroke="#333" stroke-width="1.5"/>
<line x1="61.9" y1="146.22" x2="76.5" y2="146.22" stroke="#333" stroke-width="1.5"/>
<line x1="407.7" y1="146.22" x2="393.1" y2="146.22" stroke="#333" stroke-width="1.5"/>
<line x1="61.9" y1="129.13" x2="68.9" y2="129.13" stroke="#333" stroke-width="1.5"/>
<line x1="407.7" y1="129.13" x2="400.7" y2="129.13" stroke="#333" stroke-width="1.5"/>
<line x1="61.9" y1="112.04" x2="74.9" y2="112.04" stroke="#333" stroke-width="1.5"/>
<line x1="407.7" y1="112.04" x2="394.7" y2="112.04" stroke="#333" stroke-width="1.5"/>
<line x1="61.9" y1="94.95" x2="68.9" y2="94.95" stroke="#333" stroke-width="1.5"/>
<line x1="407.7" y1="94.95" x2="400.7" y2="94.95" stroke="#333" stroke-width="1.5"/>
<line x1="61.9" y1="77.86" x2="76.5" y2="77.86" stroke="#333" stroke-width="1.5"/>
<line x1="407.7" y1="77.86" x2="393.1" y2="77.86" stroke="#333" stroke-width="1.5"/>
<line x1="61.9" y1="60.77" x2="68.9" y2="60.77" stroke="#333" stroke-width="1.5"/>
<line x1="407.7" y1="60.77" x2="400.7" y2="60.77" stroke="#333" stroke-width="1.5"/>
<line x1="61.9" y1="43.68" x2="74.9" y2="43.68" stroke="#333" stroke-width="1.5"/>
<line x1="407.7" y1="43.68" x2="394.7" y2="43.68" stroke="#333" stroke-width="1.5"/>
<line x1="61.9" y1="26.59" x2="68.9" y2="26.59" stroke="#333" stroke-width="1.5"/>
<line x1="407.7" y1="26.59" x2="400.7" y2="26.59" stroke="#333" stroke-width="1.5"/>
<rect x="61.9" y="9.1" width="345.8" height="342.4" fill="none" stroke="#000" stroke-width="2.25"/>
<text transform="translate(62.6 375.6)" font-family='"Liberation Sans", sans-serif' font-size="22.5" font-weight="bold" font-style="normal" text-anchor="middle" fill="#000" stroke="#000" stroke-width="0.25" stroke-linejoin="round">0.0</text>
<text transform="translate(131.72 375.6)" font-family='"Liberation Sans", sans-serif' font-size="22.5" font-weight="bold" font-style="normal" text-anchor="middle" fill="#000" stroke="#000" stroke-width="0.25" stroke-linejoin="round">0.2</text>
<text transform="translate(200.84 375.6)" font-family='"Liberation Sans", sans-serif' font-size="22.5" font-weight="bold" font-style="normal" text-anchor="middle" fill="#000" stroke="#000" stroke-width="0.25" stroke-linejoin="round">0.4</text>
<text transform="translate(269.96 375.6)" font-family='"Liberation Sans", sans-serif' font-size="22.5" font-weight="bold" font-style="normal" text-anchor="middle" fill="#000" stroke="#000" stroke-width="0.25" stroke-linejoin="round">0.6</text>
<text transform="translate(339.08 375.6)" font-family='"Liberation Sans", sans-serif' font-size="22.5" font-weight="bold" font-style="normal" text-anchor="middle" fill="#000" stroke="#000" stroke-width="0.25" stroke-linejoin="round">0.8</text>
<text transform="translate(408.2 375.6)" font-family='"Liberation Sans", sans-serif' font-size="22.5" font-weight="bold" font-style="normal" text-anchor="middle" fill="#000" stroke="#000" stroke-width="0.25" stroke-linejoin="round">1.0</text>
<text transform="translate(57.7 360) scale(1 1.01)" font-family='"Liberation Sans", sans-serif' font-size="22.5" font-weight="bold" font-style="normal" text-anchor="end" fill="#000" stroke="#000" stroke-width="0.25" stroke-linejoin="round">0.0</text>
<text transform="translate(57.7 291.64) scale(1 1.01)" font-family='"Liberation Sans", sans-serif' font-size="22.5" font-weight="bold" font-style="normal" text-anchor="end" fill="#000" stroke="#000" stroke-width="0.25" stroke-linejoin="round">0.2</text>
<text transform="translate(57.7 223.28) scale(1 1.01)" font-family='"Liberation Sans", sans-serif' font-size="22.5" font-weight="bold" font-style="normal" text-anchor="end" fill="#000" stroke="#000" stroke-width="0.25" stroke-linejoin="round">0.4</text>
<text transform="translate(57.7 154.92) scale(1 1.01)" font-family='"Liberation Sans", sans-serif' font-size="22.5" font-weight="bold" font-style="normal" text-anchor="end" fill="#000" stroke="#000" stroke-width="0.25" stroke-linejoin="round">0.6</text>
<text transform="translate(57.7 86.56) scale(1 1.01)" font-family='"Liberation Sans", sans-serif' font-size="22.5" font-weight="bold" font-style="normal" text-anchor="end" fill="#000" stroke="#000" stroke-width="0.25" stroke-linejoin="round">0.8</text>
<text transform="translate(57.7 18.2) scale(1 1.01)" font-family='"Liberation Sans", sans-serif' font-size="22.5" font-weight="bold" font-style="normal" text-anchor="end" fill="#000" stroke="#000" stroke-width="0.25" stroke-linejoin="round">1.0</text>
<line x1="506.6" y1="351.5" x2="506.6" y2="338.5" stroke="#333" stroke-width="1.5"/>
<line x1="506.6" y1="9.2" x2="506.6" y2="22.2" stroke="#333" stroke-width="1.5"/>
<line x1="518.45" y1="351.5" x2="518.45" y2="338.5" stroke="#333" stroke-width="1.5"/>
<line x1="518.45" y1="9.2" x2="518.45" y2="22.2" stroke="#333" stroke-width="1.5"/>
<line x1="530.3" y1="351.5" x2="530.3" y2="338.5" stroke="#333" stroke-width="1.5"/>
<line x1="530.3" y1="9.2" x2="530.3" y2="22.2" stroke="#333" stroke-width="1.5"/>
<line x1="542.15" y1="351.5" x2="542.15" y2="338.5" stroke="#333" stroke-width="1.5"/>
<line x1="542.15" y1="9.2" x2="542.15" y2="22.2" stroke="#333" stroke-width="1.5"/>
<line x1="554" y1="351.5" x2="554" y2="336.9" stroke="#333" stroke-width="1.5"/>
<line x1="554" y1="9.2" x2="554" y2="23.8" stroke="#333" stroke-width="1.5"/>
<line x1="565.85" y1="351.5" x2="565.85" y2="338.5" stroke="#333" stroke-width="1.5"/>
<line x1="565.85" y1="9.2" x2="565.85" y2="22.2" stroke="#333" stroke-width="1.5"/>
<line x1="577.7" y1="351.5" x2="577.7" y2="338.5" stroke="#333" stroke-width="1.5"/>
<line x1="577.7" y1="9.2" x2="577.7" y2="22.2" stroke="#333" stroke-width="1.5"/>
<line x1="589.55" y1="351.5" x2="589.55" y2="338.5" stroke="#333" stroke-width="1.5"/>
<line x1="589.55" y1="9.2" x2="589.55" y2="22.2" stroke="#333" stroke-width="1.5"/>
<line x1="601.4" y1="351.5" x2="601.4" y2="338.5" stroke="#333" stroke-width="1.5"/>
<line x1="601.4" y1="9.2" x2="601.4" y2="22.2" stroke="#333" stroke-width="1.5"/>
<line x1="613.25" y1="351.5" x2="613.25" y2="336.9" stroke="#333" stroke-width="1.5"/>
<line x1="613.25" y1="9.2" x2="613.25" y2="23.8" stroke="#333" stroke-width="1.5"/>
<line x1="625.1" y1="351.5" x2="625.1" y2="338.5" stroke="#333" stroke-width="1.5"/>
<line x1="625.1" y1="9.2" x2="625.1" y2="22.2" stroke="#333" stroke-width="1.5"/>
<line x1="636.95" y1="351.5" x2="636.95" y2="338.5" stroke="#333" stroke-width="1.5"/>
<line x1="636.95" y1="9.2" x2="636.95" y2="22.2" stroke="#333" stroke-width="1.5"/>
<line x1="648.8" y1="351.5" x2="648.8" y2="338.5" stroke="#333" stroke-width="1.5"/>
<line x1="648.8" y1="9.2" x2="648.8" y2="22.2" stroke="#333" stroke-width="1.5"/>
<line x1="660.65" y1="351.5" x2="660.65" y2="338.5" stroke="#333" stroke-width="1.5"/>
<line x1="660.65" y1="9.2" x2="660.65" y2="22.2" stroke="#333" stroke-width="1.5"/>
<line x1="672.5" y1="351.5" x2="672.5" y2="336.9" stroke="#333" stroke-width="1.5"/>
<line x1="672.5" y1="9.2" x2="672.5" y2="23.8" stroke="#333" stroke-width="1.5"/>
<line x1="684.35" y1="351.5" x2="684.35" y2="338.5" stroke="#333" stroke-width="1.5"/>
<line x1="684.35" y1="9.2" x2="684.35" y2="22.2" stroke="#333" stroke-width="1.5"/>
<line x1="696.2" y1="351.5" x2="696.2" y2="338.5" stroke="#333" stroke-width="1.5"/>
<line x1="696.2" y1="9.2" x2="696.2" y2="22.2" stroke="#333" stroke-width="1.5"/>
<line x1="708.05" y1="351.5" x2="708.05" y2="338.5" stroke="#333" stroke-width="1.5"/>
<line x1="708.05" y1="9.2" x2="708.05" y2="22.2" stroke="#333" stroke-width="1.5"/>
<line x1="719.9" y1="351.5" x2="719.9" y2="338.5" stroke="#333" stroke-width="1.5"/>
<line x1="719.9" y1="9.2" x2="719.9" y2="22.2" stroke="#333" stroke-width="1.5"/>
<line x1="731.75" y1="351.5" x2="731.75" y2="336.9" stroke="#333" stroke-width="1.5"/>
<line x1="731.75" y1="9.2" x2="731.75" y2="23.8" stroke="#333" stroke-width="1.5"/>
<line x1="743.6" y1="351.5" x2="743.6" y2="338.5" stroke="#333" stroke-width="1.5"/>
<line x1="743.6" y1="9.2" x2="743.6" y2="22.2" stroke="#333" stroke-width="1.5"/>
<line x1="755.45" y1="351.5" x2="755.45" y2="338.5" stroke="#333" stroke-width="1.5"/>
<line x1="755.45" y1="9.2" x2="755.45" y2="22.2" stroke="#333" stroke-width="1.5"/>
<line x1="767.3" y1="351.5" x2="767.3" y2="338.5" stroke="#333" stroke-width="1.5"/>
<line x1="767.3" y1="9.2" x2="767.3" y2="22.2" stroke="#333" stroke-width="1.5"/>
<line x1="779.15" y1="351.5" x2="779.15" y2="338.5" stroke="#333" stroke-width="1.5"/>
<line x1="779.15" y1="9.2" x2="779.15" y2="22.2" stroke="#333" stroke-width="1.5"/>
<line x1="791" y1="351.5" x2="791" y2="336.9" stroke="#333" stroke-width="1.5"/>
<line x1="791" y1="9.2" x2="791" y2="23.8" stroke="#333" stroke-width="1.5"/>
<line x1="802.85" y1="351.5" x2="802.85" y2="338.5" stroke="#333" stroke-width="1.5"/>
<line x1="802.85" y1="9.2" x2="802.85" y2="22.2" stroke="#333" stroke-width="1.5"/>
<line x1="814.7" y1="351.5" x2="814.7" y2="338.5" stroke="#333" stroke-width="1.5"/>
<line x1="814.7" y1="9.2" x2="814.7" y2="22.2" stroke="#333" stroke-width="1.5"/>
<line x1="826.55" y1="351.5" x2="826.55" y2="338.5" stroke="#333" stroke-width="1.5"/>
<line x1="826.55" y1="9.2" x2="826.55" y2="22.2" stroke="#333" stroke-width="1.5"/>
<line x1="838.4" y1="351.5" x2="838.4" y2="338.5" stroke="#333" stroke-width="1.5"/>
<line x1="838.4" y1="9.2" x2="838.4" y2="22.2" stroke="#333" stroke-width="1.5"/>
<line x1="500.7" y1="334.21" x2="507.7" y2="334.21" stroke="#333" stroke-width="1.5"/>
<line x1="851" y1="334.21" x2="844" y2="334.21" stroke="#333" stroke-width="1.5"/>
<line x1="500.7" y1="317.12" x2="513.7" y2="317.12" stroke="#333" stroke-width="1.5"/>
<line x1="851" y1="317.12" x2="838" y2="317.12" stroke="#333" stroke-width="1.5"/>
<line x1="500.7" y1="300.03" x2="507.7" y2="300.03" stroke="#333" stroke-width="1.5"/>
<line x1="851" y1="300.03" x2="844" y2="300.03" stroke="#333" stroke-width="1.5"/>
<line x1="500.7" y1="282.94" x2="515.3" y2="282.94" stroke="#333" stroke-width="1.5"/>
<line x1="851" y1="282.94" x2="836.4" y2="282.94" stroke="#333" stroke-width="1.5"/>
<line x1="500.7" y1="265.85" x2="507.7" y2="265.85" stroke="#333" stroke-width="1.5"/>
<line x1="851" y1="265.85" x2="844" y2="265.85" stroke="#333" stroke-width="1.5"/>
<line x1="500.7" y1="248.76" x2="513.7" y2="248.76" stroke="#333" stroke-width="1.5"/>
<line x1="851" y1="248.76" x2="838" y2="248.76" stroke="#333" stroke-width="1.5"/>
<line x1="500.7" y1="231.67" x2="507.7" y2="231.67" stroke="#333" stroke-width="1.5"/>
<line x1="851" y1="231.67" x2="844" y2="231.67" stroke="#333" stroke-width="1.5"/>
<line x1="500.7" y1="214.58" x2="515.3" y2="214.58" stroke="#333" stroke-width="1.5"/>
<line x1="851" y1="214.58" x2="836.4" y2="214.58" stroke="#333" stroke-width="1.5"/>
<line x1="500.7" y1="197.49" x2="507.7" y2="197.49" stroke="#333" stroke-width="1.5"/>
<line x1="851" y1="197.49" x2="844" y2="197.49" stroke="#333" stroke-width="1.5"/>
<line x1="500.7" y1="180.4" x2="513.7" y2="180.4" stroke="#333" stroke-width="1.5"/>
<line x1="851" y1="180.4" x2="838" y2="180.4" stroke="#333" stroke-width="1.5"/>
<line x1="500.7" y1="163.31" x2="507.7" y2="163.31" stroke="#333" stroke-width="1.5"/>
<line x1="851" y1="163.31" x2="844" y2="163.31" stroke="#333" stroke-width="1.5"/>
<line x1="500.7" y1="146.22" x2="515.3" y2="146.22" stroke="#333" stroke-width="1.5"/>
<line x1="851" y1="146.22" x2="836.4" y2="146.22" stroke="#333" stroke-width="1.5"/>
<line x1="500.7" y1="129.13" x2="507.7" y2="129.13" stroke="#333" stroke-width="1.5"/>
<line x1="851" y1="129.13" x2="844" y2="129.13" stroke="#333" stroke-width="1.5"/>
<line x1="500.7" y1="112.04" x2="513.7" y2="112.04" stroke="#333" stroke-width="1.5"/>
<line x1="851" y1="112.04" x2="838" y2="112.04" stroke="#333" stroke-width="1.5"/>
<line x1="500.7" y1="94.95" x2="507.7" y2="94.95" stroke="#333" stroke-width="1.5"/>
<line x1="851" y1="94.95" x2="844" y2="94.95" stroke="#333" stroke-width="1.5"/>
<line x1="500.7" y1="77.86" x2="515.3" y2="77.86" stroke="#333" stroke-width="1.5"/>
<line x1="851" y1="77.86" x2="836.4" y2="77.86" stroke="#333" stroke-width="1.5"/>
<line x1="500.7" y1="60.77" x2="507.7" y2="60.77" stroke="#333" stroke-width="1.5"/>
<line x1="851" y1="60.77" x2="844" y2="60.77" stroke="#333" stroke-width="1.5"/>
<line x1="500.7" y1="43.68" x2="513.7" y2="43.68" stroke="#333" stroke-width="1.5"/>
<line x1="851" y1="43.68" x2="838" y2="43.68" stroke="#333" stroke-width="1.5"/>
<line x1="500.7" y1="26.59" x2="507.7" y2="26.59" stroke="#333" stroke-width="1.5"/>
<line x1="851" y1="26.59" x2="844" y2="26.59" stroke="#333" stroke-width="1.5"/>
<rect x="500.7" y="9.2" width="350.3" height="342.3" fill="none" stroke="#000" stroke-width="2.25"/>
<text transform="translate(554.4 375.6)" font-family='"Liberation Sans", sans-serif' font-size="22.5" font-weight="bold" font-style="normal" text-anchor="middle" fill="#000" stroke="#000" stroke-width="0.25" stroke-linejoin="round">–1.0</text>
<text transform="translate(613.65 375.6)" font-family='"Liberation Sans", sans-serif' font-size="22.5" font-weight="bold" font-style="normal" text-anchor="middle" fill="#000" stroke="#000" stroke-width="0.25" stroke-linejoin="round">–0.5</text>
<text transform="translate(672.9 375.6)" font-family='"Liberation Sans", sans-serif' font-size="22.5" font-weight="bold" font-style="normal" text-anchor="middle" fill="#000" stroke="#000" stroke-width="0.25" stroke-linejoin="round">0.0</text>
<text transform="translate(732.15 375.6)" font-family='"Liberation Sans", sans-serif' font-size="22.5" font-weight="bold" font-style="normal" text-anchor="middle" fill="#000" stroke="#000" stroke-width="0.25" stroke-linejoin="round">0.5</text>
<text transform="translate(791.4 375.6)" font-family='"Liberation Sans", sans-serif' font-size="22.5" font-weight="bold" font-style="normal" text-anchor="middle" fill="#000" stroke="#000" stroke-width="0.25" stroke-linejoin="round">1.0</text>
<text transform="translate(850.65 375.6)" font-family='"Liberation Sans", sans-serif' font-size="22.5" font-weight="bold" font-style="normal" text-anchor="middle" fill="#000" stroke="#000" stroke-width="0.25" stroke-linejoin="round">1.5</text>
<text transform="translate(496.5 360) scale(1 1.01)" font-family='"Liberation Sans", sans-serif' font-size="22.5" font-weight="bold" font-style="normal" text-anchor="end" fill="#000" stroke="#000" stroke-width="0.25" stroke-linejoin="round">0.0</text>
<text transform="translate(496.5 291.64) scale(1 1.01)" font-family='"Liberation Sans", sans-serif' font-size="22.5" font-weight="bold" font-style="normal" text-anchor="end" fill="#000" stroke="#000" stroke-width="0.25" stroke-linejoin="round">0.2</text>
<text transform="translate(496.5 223.28) scale(1 1.01)" font-family='"Liberation Sans", sans-serif' font-size="22.5" font-weight="bold" font-style="normal" text-anchor="end" fill="#000" stroke="#000" stroke-width="0.25" stroke-linejoin="round">0.4</text>
<text transform="translate(496.5 154.92) scale(1 1.01)" font-family='"Liberation Sans", sans-serif' font-size="22.5" font-weight="bold" font-style="normal" text-anchor="end" fill="#000" stroke="#000" stroke-width="0.25" stroke-linejoin="round">0.6</text>
<text transform="translate(496.5 86.56) scale(1 1.01)" font-family='"Liberation Sans", sans-serif' font-size="22.5" font-weight="bold" font-style="normal" text-anchor="end" fill="#000" stroke="#000" stroke-width="0.25" stroke-linejoin="round">0.8</text>
<text transform="translate(496.5 18.2) scale(1 1.01)" font-family='"Liberation Sans", sans-serif' font-size="22.5" font-weight="bold" font-style="normal" text-anchor="end" fill="#000" stroke="#000" stroke-width="0.25" stroke-linejoin="round">1.0</text>
<line x1="68.1" y1="803.6" x2="68.1" y2="790.6" stroke="#333" stroke-width="1.5"/>
<line x1="68.1" y1="457.7" x2="68.1" y2="470.7" stroke="#333" stroke-width="1.5"/>
<line x1="79.76" y1="803.6" x2="79.76" y2="790.6" stroke="#333" stroke-width="1.5"/>
<line x1="79.76" y1="457.7" x2="79.76" y2="470.7" stroke="#333" stroke-width="1.5"/>
<line x1="91.42" y1="803.6" x2="91.42" y2="790.6" stroke="#333" stroke-width="1.5"/>
<line x1="91.42" y1="457.7" x2="91.42" y2="470.7" stroke="#333" stroke-width="1.5"/>
<line x1="103.07" y1="803.6" x2="103.07" y2="790.6" stroke="#333" stroke-width="1.5"/>
<line x1="103.07" y1="457.7" x2="103.07" y2="470.7" stroke="#333" stroke-width="1.5"/>
<line x1="114.73" y1="803.6" x2="114.73" y2="789" stroke="#333" stroke-width="1.5"/>
<line x1="114.73" y1="457.7" x2="114.73" y2="472.3" stroke="#333" stroke-width="1.5"/>
<line x1="126.39" y1="803.6" x2="126.39" y2="790.6" stroke="#333" stroke-width="1.5"/>
<line x1="126.39" y1="457.7" x2="126.39" y2="470.7" stroke="#333" stroke-width="1.5"/>
<line x1="138.04" y1="803.6" x2="138.04" y2="790.6" stroke="#333" stroke-width="1.5"/>
<line x1="138.04" y1="457.7" x2="138.04" y2="470.7" stroke="#333" stroke-width="1.5"/>
<line x1="149.7" y1="803.6" x2="149.7" y2="790.6" stroke="#333" stroke-width="1.5"/>
<line x1="149.7" y1="457.7" x2="149.7" y2="470.7" stroke="#333" stroke-width="1.5"/>
<line x1="161.36" y1="803.6" x2="161.36" y2="790.6" stroke="#333" stroke-width="1.5"/>
<line x1="161.36" y1="457.7" x2="161.36" y2="470.7" stroke="#333" stroke-width="1.5"/>
<line x1="173.02" y1="803.6" x2="173.02" y2="789" stroke="#333" stroke-width="1.5"/>
<line x1="173.02" y1="457.7" x2="173.02" y2="472.3" stroke="#333" stroke-width="1.5"/>
<line x1="184.67" y1="803.6" x2="184.67" y2="790.6" stroke="#333" stroke-width="1.5"/>
<line x1="184.67" y1="457.7" x2="184.67" y2="470.7" stroke="#333" stroke-width="1.5"/>
<line x1="196.33" y1="803.6" x2="196.33" y2="790.6" stroke="#333" stroke-width="1.5"/>
<line x1="196.33" y1="457.7" x2="196.33" y2="470.7" stroke="#333" stroke-width="1.5"/>
<line x1="207.99" y1="803.6" x2="207.99" y2="790.6" stroke="#333" stroke-width="1.5"/>
<line x1="207.99" y1="457.7" x2="207.99" y2="470.7" stroke="#333" stroke-width="1.5"/>
<line x1="219.64" y1="803.6" x2="219.64" y2="790.6" stroke="#333" stroke-width="1.5"/>
<line x1="219.64" y1="457.7" x2="219.64" y2="470.7" stroke="#333" stroke-width="1.5"/>
<line x1="231.3" y1="803.6" x2="231.3" y2="789" stroke="#333" stroke-width="1.5"/>
<line x1="231.3" y1="457.7" x2="231.3" y2="472.3" stroke="#333" stroke-width="1.5"/>
<line x1="242.96" y1="803.6" x2="242.96" y2="790.6" stroke="#333" stroke-width="1.5"/>
<line x1="242.96" y1="457.7" x2="242.96" y2="470.7" stroke="#333" stroke-width="1.5"/>
<line x1="254.61" y1="803.6" x2="254.61" y2="790.6" stroke="#333" stroke-width="1.5"/>
<line x1="254.61" y1="457.7" x2="254.61" y2="470.7" stroke="#333" stroke-width="1.5"/>
<line x1="266.27" y1="803.6" x2="266.27" y2="790.6" stroke="#333" stroke-width="1.5"/>
<line x1="266.27" y1="457.7" x2="266.27" y2="470.7" stroke="#333" stroke-width="1.5"/>
<line x1="277.93" y1="803.6" x2="277.93" y2="790.6" stroke="#333" stroke-width="1.5"/>
<line x1="277.93" y1="457.7" x2="277.93" y2="470.7" stroke="#333" stroke-width="1.5"/>
<line x1="289.59" y1="803.6" x2="289.59" y2="789" stroke="#333" stroke-width="1.5"/>
<line x1="289.59" y1="457.7" x2="289.59" y2="472.3" stroke="#333" stroke-width="1.5"/>
<line x1="301.24" y1="803.6" x2="301.24" y2="790.6" stroke="#333" stroke-width="1.5"/>
<line x1="301.24" y1="457.7" x2="301.24" y2="470.7" stroke="#333" stroke-width="1.5"/>
<line x1="312.9" y1="803.6" x2="312.9" y2="790.6" stroke="#333" stroke-width="1.5"/>
<line x1="312.9" y1="457.7" x2="312.9" y2="470.7" stroke="#333" stroke-width="1.5"/>
<line x1="324.56" y1="803.6" x2="324.56" y2="790.6" stroke="#333" stroke-width="1.5"/>
<line x1="324.56" y1="457.7" x2="324.56" y2="470.7" stroke="#333" stroke-width="1.5"/>
<line x1="336.21" y1="803.6" x2="336.21" y2="790.6" stroke="#333" stroke-width="1.5"/>
<line x1="336.21" y1="457.7" x2="336.21" y2="470.7" stroke="#333" stroke-width="1.5"/>
<line x1="347.87" y1="803.6" x2="347.87" y2="789" stroke="#333" stroke-width="1.5"/>
<line x1="347.87" y1="457.7" x2="347.87" y2="472.3" stroke="#333" stroke-width="1.5"/>
<line x1="359.53" y1="803.6" x2="359.53" y2="790.6" stroke="#333" stroke-width="1.5"/>
<line x1="359.53" y1="457.7" x2="359.53" y2="470.7" stroke="#333" stroke-width="1.5"/>
<line x1="371.18" y1="803.6" x2="371.18" y2="790.6" stroke="#333" stroke-width="1.5"/>
<line x1="371.18" y1="457.7" x2="371.18" y2="470.7" stroke="#333" stroke-width="1.5"/>
<line x1="382.84" y1="803.6" x2="382.84" y2="790.6" stroke="#333" stroke-width="1.5"/>
<line x1="382.84" y1="457.7" x2="382.84" y2="470.7" stroke="#333" stroke-width="1.5"/>
<line x1="394.5" y1="803.6" x2="394.5" y2="790.6" stroke="#333" stroke-width="1.5"/>
<line x1="394.5" y1="457.7" x2="394.5" y2="470.7" stroke="#333" stroke-width="1.5"/>
<line x1="61.8" y1="786.31" x2="68.8" y2="786.31" stroke="#333" stroke-width="1.5"/>
<line x1="407" y1="786.31" x2="400" y2="786.31" stroke="#333" stroke-width="1.5"/>
<line x1="61.8" y1="769.01" x2="74.8" y2="769.01" stroke="#333" stroke-width="1.5"/>
<line x1="407" y1="769.01" x2="394" y2="769.01" stroke="#333" stroke-width="1.5"/>
<line x1="61.8" y1="751.72" x2="68.8" y2="751.72" stroke="#333" stroke-width="1.5"/>
<line x1="407" y1="751.72" x2="400" y2="751.72" stroke="#333" stroke-width="1.5"/>
<line x1="61.8" y1="734.42" x2="76.4" y2="734.42" stroke="#333" stroke-width="1.5"/>
<line x1="407" y1="734.42" x2="392.4" y2="734.42" stroke="#333" stroke-width="1.5"/>
<line x1="61.8" y1="717.12" x2="68.8" y2="717.12" stroke="#333" stroke-width="1.5"/>
<line x1="407" y1="717.12" x2="400" y2="717.12" stroke="#333" stroke-width="1.5"/>
<line x1="61.8" y1="699.83" x2="74.8" y2="699.83" stroke="#333" stroke-width="1.5"/>
<line x1="407" y1="699.83" x2="394" y2="699.83" stroke="#333" stroke-width="1.5"/>
<line x1="61.8" y1="682.54" x2="68.8" y2="682.54" stroke="#333" stroke-width="1.5"/>
<line x1="407" y1="682.54" x2="400" y2="682.54" stroke="#333" stroke-width="1.5"/>
<line x1="61.8" y1="665.24" x2="76.4" y2="665.24" stroke="#333" stroke-width="1.5"/>
<line x1="407" y1="665.24" x2="392.4" y2="665.24" stroke="#333" stroke-width="1.5"/>
<line x1="61.8" y1="647.94" x2="68.8" y2="647.94" stroke="#333" stroke-width="1.5"/>
<line x1="407" y1="647.94" x2="400" y2="647.94" stroke="#333" stroke-width="1.5"/>
<line x1="61.8" y1="630.65" x2="74.8" y2="630.65" stroke="#333" stroke-width="1.5"/>
<line x1="407" y1="630.65" x2="394" y2="630.65" stroke="#333" stroke-width="1.5"/>
<line x1="61.8" y1="613.36" x2="68.8" y2="613.36" stroke="#333" stroke-width="1.5"/>
<line x1="407" y1="613.36" x2="400" y2="613.36" stroke="#333" stroke-width="1.5"/>
<line x1="61.8" y1="596.06" x2="76.4" y2="596.06" stroke="#333" stroke-width="1.5"/>
<line x1="407" y1="596.06" x2="392.4" y2="596.06" stroke="#333" stroke-width="1.5"/>
<line x1="61.8" y1="578.76" x2="68.8" y2="578.76" stroke="#333" stroke-width="1.5"/>
<line x1="407" y1="578.76" x2="400" y2="578.76" stroke="#333" stroke-width="1.5"/>
<line x1="61.8" y1="561.47" x2="74.8" y2="561.47" stroke="#333" stroke-width="1.5"/>
<line x1="407" y1="561.47" x2="394" y2="561.47" stroke="#333" stroke-width="1.5"/>
<line x1="61.8" y1="544.17" x2="68.8" y2="544.17" stroke="#333" stroke-width="1.5"/>
<line x1="407" y1="544.17" x2="400" y2="544.17" stroke="#333" stroke-width="1.5"/>
<line x1="61.8" y1="526.88" x2="76.4" y2="526.88" stroke="#333" stroke-width="1.5"/>
<line x1="407" y1="526.88" x2="392.4" y2="526.88" stroke="#333" stroke-width="1.5"/>
<line x1="61.8" y1="509.58" x2="68.8" y2="509.58" stroke="#333" stroke-width="1.5"/>
<line x1="407" y1="509.58" x2="400" y2="509.58" stroke="#333" stroke-width="1.5"/>
<line x1="61.8" y1="492.29" x2="74.8" y2="492.29" stroke="#333" stroke-width="1.5"/>
<line x1="407" y1="492.29" x2="394" y2="492.29" stroke="#333" stroke-width="1.5"/>
<line x1="61.8" y1="475" x2="68.8" y2="475" stroke="#333" stroke-width="1.5"/>
<line x1="407" y1="475" x2="400" y2="475" stroke="#333" stroke-width="1.5"/>
<rect x="61.8" y="457.7" width="345.2" height="345.9" fill="none" stroke="#000" stroke-width="2.25"/>
<text transform="translate(115.13 827.7)" font-family='"Liberation Sans", sans-serif' font-size="22.5" font-weight="bold" font-style="normal" text-anchor="middle" fill="#000" stroke="#000" stroke-width="0.25" stroke-linejoin="round">–1.0</text>
<text transform="translate(173.42 827.7)" font-family='"Liberation Sans", sans-serif' font-size="22.5" font-weight="bold" font-style="normal" text-anchor="middle" fill="#000" stroke="#000" stroke-width="0.25" stroke-linejoin="round">–0.5</text>
<text transform="translate(231.7 827.7)" font-family='"Liberation Sans", sans-serif' font-size="22.5" font-weight="bold" font-style="normal" text-anchor="middle" fill="#000" stroke="#000" stroke-width="0.25" stroke-linejoin="round">0.0</text>
<text transform="translate(289.99 827.7)" font-family='"Liberation Sans", sans-serif' font-size="22.5" font-weight="bold" font-style="normal" text-anchor="middle" fill="#000" stroke="#000" stroke-width="0.25" stroke-linejoin="round">0.5</text>
<text transform="translate(348.27 827.7)" font-family='"Liberation Sans", sans-serif' font-size="22.5" font-weight="bold" font-style="normal" text-anchor="middle" fill="#000" stroke="#000" stroke-width="0.25" stroke-linejoin="round">1.0</text>
<text transform="translate(406.55 827.7)" font-family='"Liberation Sans", sans-serif' font-size="22.5" font-weight="bold" font-style="normal" text-anchor="middle" fill="#000" stroke="#000" stroke-width="0.25" stroke-linejoin="round">1.5</text>
<text transform="translate(57.6 812.3) scale(1 1.01)" font-family='"Liberation Sans", sans-serif' font-size="22.5" font-weight="bold" font-style="normal" text-anchor="end" fill="#000" stroke="#000" stroke-width="0.25" stroke-linejoin="round">0.0</text>
<text transform="translate(57.6 743.12) scale(1 1.01)" font-family='"Liberation Sans", sans-serif' font-size="22.5" font-weight="bold" font-style="normal" text-anchor="end" fill="#000" stroke="#000" stroke-width="0.25" stroke-linejoin="round">0.2</text>
<text transform="translate(57.6 673.94) scale(1 1.01)" font-family='"Liberation Sans", sans-serif' font-size="22.5" font-weight="bold" font-style="normal" text-anchor="end" fill="#000" stroke="#000" stroke-width="0.25" stroke-linejoin="round">0.4</text>
<text transform="translate(57.6 604.76) scale(1 1.01)" font-family='"Liberation Sans", sans-serif' font-size="22.5" font-weight="bold" font-style="normal" text-anchor="end" fill="#000" stroke="#000" stroke-width="0.25" stroke-linejoin="round">0.6</text>
<text transform="translate(57.6 535.58) scale(1 1.01)" font-family='"Liberation Sans", sans-serif' font-size="22.5" font-weight="bold" font-style="normal" text-anchor="end" fill="#000" stroke="#000" stroke-width="0.25" stroke-linejoin="round">0.8</text>
<text transform="translate(57.6 466.4) scale(1 1.01)" font-family='"Liberation Sans", sans-serif' font-size="22.5" font-weight="bold" font-style="normal" text-anchor="end" fill="#000" stroke="#000" stroke-width="0.25" stroke-linejoin="round">1.0</text>
<line x1="510.54" y1="803.9" x2="510.54" y2="796.9" stroke="#333" stroke-width="1.5"/>
<line x1="510.54" y1="455.7" x2="510.54" y2="462.7" stroke="#333" stroke-width="1.5"/>
<line x1="519.29" y1="803.9" x2="519.29" y2="790.9" stroke="#333" stroke-width="1.5"/>
<line x1="519.29" y1="455.7" x2="519.29" y2="468.7" stroke="#333" stroke-width="1.5"/>
<line x1="528.03" y1="803.9" x2="528.03" y2="796.9" stroke="#333" stroke-width="1.5"/>
<line x1="528.03" y1="455.7" x2="528.03" y2="462.7" stroke="#333" stroke-width="1.5"/>
<line x1="536.78" y1="803.9" x2="536.78" y2="789.3" stroke="#333" stroke-width="1.5"/>
<line x1="536.78" y1="455.7" x2="536.78" y2="470.3" stroke="#333" stroke-width="1.5"/>
<line x1="545.53" y1="803.9" x2="545.53" y2="796.9" stroke="#333" stroke-width="1.5"/>
<line x1="545.53" y1="455.7" x2="545.53" y2="462.7" stroke="#333" stroke-width="1.5"/>
<line x1="554.27" y1="803.9" x2="554.27" y2="790.9" stroke="#333" stroke-width="1.5"/>
<line x1="554.27" y1="455.7" x2="554.27" y2="468.7" stroke="#333" stroke-width="1.5"/>
<line x1="563.02" y1="803.9" x2="563.02" y2="796.9" stroke="#333" stroke-width="1.5"/>
<line x1="563.02" y1="455.7" x2="563.02" y2="462.7" stroke="#333" stroke-width="1.5"/>
<line x1="571.76" y1="803.9" x2="571.76" y2="790.9" stroke="#333" stroke-width="1.5"/>
<line x1="571.76" y1="455.7" x2="571.76" y2="468.7" stroke="#333" stroke-width="1.5"/>
<line x1="580.51" y1="803.9" x2="580.51" y2="796.9" stroke="#333" stroke-width="1.5"/>
<line x1="580.51" y1="455.7" x2="580.51" y2="462.7" stroke="#333" stroke-width="1.5"/>
<line x1="589.26" y1="803.9" x2="589.26" y2="790.9" stroke="#333" stroke-width="1.5"/>
<line x1="589.26" y1="455.7" x2="589.26" y2="468.7" stroke="#333" stroke-width="1.5"/>
<line x1="598" y1="803.9" x2="598" y2="796.9" stroke="#333" stroke-width="1.5"/>
<line x1="598" y1="455.7" x2="598" y2="462.7" stroke="#333" stroke-width="1.5"/>
<line x1="606.75" y1="803.9" x2="606.75" y2="790.9" stroke="#333" stroke-width="1.5"/>
<line x1="606.75" y1="455.7" x2="606.75" y2="468.7" stroke="#333" stroke-width="1.5"/>
<line x1="615.49" y1="803.9" x2="615.49" y2="796.9" stroke="#333" stroke-width="1.5"/>
<line x1="615.49" y1="455.7" x2="615.49" y2="462.7" stroke="#333" stroke-width="1.5"/>
<line x1="624.24" y1="803.9" x2="624.24" y2="789.3" stroke="#333" stroke-width="1.5"/>
<line x1="624.24" y1="455.7" x2="624.24" y2="470.3" stroke="#333" stroke-width="1.5"/>
<line x1="632.99" y1="803.9" x2="632.99" y2="796.9" stroke="#333" stroke-width="1.5"/>
<line x1="632.99" y1="455.7" x2="632.99" y2="462.7" stroke="#333" stroke-width="1.5"/>
<line x1="641.73" y1="803.9" x2="641.73" y2="790.9" stroke="#333" stroke-width="1.5"/>
<line x1="641.73" y1="455.7" x2="641.73" y2="468.7" stroke="#333" stroke-width="1.5"/>
<line x1="650.48" y1="803.9" x2="650.48" y2="796.9" stroke="#333" stroke-width="1.5"/>
<line x1="650.48" y1="455.7" x2="650.48" y2="462.7" stroke="#333" stroke-width="1.5"/>
<line x1="659.22" y1="803.9" x2="659.22" y2="790.9" stroke="#333" stroke-width="1.5"/>
<line x1="659.22" y1="455.7" x2="659.22" y2="468.7" stroke="#333" stroke-width="1.5"/>
<line x1="667.97" y1="803.9" x2="667.97" y2="796.9" stroke="#333" stroke-width="1.5"/>
<line x1="667.97" y1="455.7" x2="667.97" y2="462.7" stroke="#333" stroke-width="1.5"/>
<line x1="676.72" y1="803.9" x2="676.72" y2="790.9" stroke="#333" stroke-width="1.5"/>
<line x1="676.72" y1="455.7" x2="676.72" y2="468.7" stroke="#333" stroke-width="1.5"/>
<line x1="685.46" y1="803.9" x2="685.46" y2="796.9" stroke="#333" stroke-width="1.5"/>
<line x1="685.46" y1="455.7" x2="685.46" y2="462.7" stroke="#333" stroke-width="1.5"/>
<line x1="694.21" y1="803.9" x2="694.21" y2="790.9" stroke="#333" stroke-width="1.5"/>
<line x1="694.21" y1="455.7" x2="694.21" y2="468.7" stroke="#333" stroke-width="1.5"/>
<line x1="702.95" y1="803.9" x2="702.95" y2="796.9" stroke="#333" stroke-width="1.5"/>
<line x1="702.95" y1="455.7" x2="702.95" y2="462.7" stroke="#333" stroke-width="1.5"/>
<line x1="711.7" y1="803.9" x2="711.7" y2="789.3" stroke="#333" stroke-width="1.5"/>
<line x1="711.7" y1="455.7" x2="711.7" y2="470.3" stroke="#333" stroke-width="1.5"/>
<line x1="720.45" y1="803.9" x2="720.45" y2="796.9" stroke="#333" stroke-width="1.5"/>
<line x1="720.45" y1="455.7" x2="720.45" y2="462.7" stroke="#333" stroke-width="1.5"/>
<line x1="729.19" y1="803.9" x2="729.19" y2="790.9" stroke="#333" stroke-width="1.5"/>
<line x1="729.19" y1="455.7" x2="729.19" y2="468.7" stroke="#333" stroke-width="1.5"/>
<line x1="737.94" y1="803.9" x2="737.94" y2="796.9" stroke="#333" stroke-width="1.5"/>
<line x1="737.94" y1="455.7" x2="737.94" y2="462.7" stroke="#333" stroke-width="1.5"/>
<line x1="746.68" y1="803.9" x2="746.68" y2="790.9" stroke="#333" stroke-width="1.5"/>
<line x1="746.68" y1="455.7" x2="746.68" y2="468.7" stroke="#333" stroke-width="1.5"/>
<line x1="755.43" y1="803.9" x2="755.43" y2="796.9" stroke="#333" stroke-width="1.5"/>
<line x1="755.43" y1="455.7" x2="755.43" y2="462.7" stroke="#333" stroke-width="1.5"/>
<line x1="764.18" y1="803.9" x2="764.18" y2="790.9" stroke="#333" stroke-width="1.5"/>
<line x1="764.18" y1="455.7" x2="764.18" y2="468.7" stroke="#333" stroke-width="1.5"/>
<line x1="772.92" y1="803.9" x2="772.92" y2="796.9" stroke="#333" stroke-width="1.5"/>
<line x1="772.92" y1="455.7" x2="772.92" y2="462.7" stroke="#333" stroke-width="1.5"/>
<line x1="781.67" y1="803.9" x2="781.67" y2="790.9" stroke="#333" stroke-width="1.5"/>
<line x1="781.67" y1="455.7" x2="781.67" y2="468.7" stroke="#333" stroke-width="1.5"/>
<line x1="790.41" y1="803.9" x2="790.41" y2="796.9" stroke="#333" stroke-width="1.5"/>
<line x1="790.41" y1="455.7" x2="790.41" y2="462.7" stroke="#333" stroke-width="1.5"/>
<line x1="799.16" y1="803.9" x2="799.16" y2="789.3" stroke="#333" stroke-width="1.5"/>
<line x1="799.16" y1="455.7" x2="799.16" y2="470.3" stroke="#333" stroke-width="1.5"/>
<line x1="807.91" y1="803.9" x2="807.91" y2="796.9" stroke="#333" stroke-width="1.5"/>
<line x1="807.91" y1="455.7" x2="807.91" y2="462.7" stroke="#333" stroke-width="1.5"/>
<line x1="816.65" y1="803.9" x2="816.65" y2="790.9" stroke="#333" stroke-width="1.5"/>
<line x1="816.65" y1="455.7" x2="816.65" y2="468.7" stroke="#333" stroke-width="1.5"/>
<line x1="825.4" y1="803.9" x2="825.4" y2="796.9" stroke="#333" stroke-width="1.5"/>
<line x1="825.4" y1="455.7" x2="825.4" y2="462.7" stroke="#333" stroke-width="1.5"/>
<line x1="834.14" y1="803.9" x2="834.14" y2="790.9" stroke="#333" stroke-width="1.5"/>
<line x1="834.14" y1="455.7" x2="834.14" y2="468.7" stroke="#333" stroke-width="1.5"/>
<line x1="842.89" y1="803.9" x2="842.89" y2="796.9" stroke="#333" stroke-width="1.5"/>
<line x1="842.89" y1="455.7" x2="842.89" y2="462.7" stroke="#333" stroke-width="1.5"/>
<line x1="501.4" y1="790.22" x2="514.4" y2="790.22" stroke="#333" stroke-width="1.5"/>
<line x1="852.3" y1="790.22" x2="839.3" y2="790.22" stroke="#333" stroke-width="1.5"/>
<line x1="501.4" y1="776.86" x2="514.4" y2="776.86" stroke="#333" stroke-width="1.5"/>
<line x1="852.3" y1="776.86" x2="839.3" y2="776.86" stroke="#333" stroke-width="1.5"/>
<line x1="501.4" y1="763.5" x2="516" y2="763.5" stroke="#333" stroke-width="1.5"/>
<line x1="852.3" y1="763.5" x2="837.7" y2="763.5" stroke="#333" stroke-width="1.5"/>
<line x1="501.4" y1="750.14" x2="514.4" y2="750.14" stroke="#333" stroke-width="1.5"/>
<line x1="852.3" y1="750.14" x2="839.3" y2="750.14" stroke="#333" stroke-width="1.5"/>
<line x1="501.4" y1="736.78" x2="514.4" y2="736.78" stroke="#333" stroke-width="1.5"/>
<line x1="852.3" y1="736.78" x2="839.3" y2="736.78" stroke="#333" stroke-width="1.5"/>
<line x1="501.4" y1="723.42" x2="514.4" y2="723.42" stroke="#333" stroke-width="1.5"/>
<line x1="852.3" y1="723.42" x2="839.3" y2="723.42" stroke="#333" stroke-width="1.5"/>
<line x1="501.4" y1="710.06" x2="514.4" y2="710.06" stroke="#333" stroke-width="1.5"/>
<line x1="852.3" y1="710.06" x2="839.3" y2="710.06" stroke="#333" stroke-width="1.5"/>
<line x1="501.4" y1="696.7" x2="516" y2="696.7" stroke="#333" stroke-width="1.5"/>
<line x1="852.3" y1="696.7" x2="837.7" y2="696.7" stroke="#333" stroke-width="1.5"/>
<line x1="501.4" y1="683.34" x2="514.4" y2="683.34" stroke="#333" stroke-width="1.5"/>
<line x1="852.3" y1="683.34" x2="839.3" y2="683.34" stroke="#333" stroke-width="1.5"/>
<line x1="501.4" y1="669.98" x2="514.4" y2="669.98" stroke="#333" stroke-width="1.5"/>
<line x1="852.3" y1="669.98" x2="839.3" y2="669.98" stroke="#333" stroke-width="1.5"/>
<line x1="501.4" y1="656.62" x2="514.4" y2="656.62" stroke="#333" stroke-width="1.5"/>
<line x1="852.3" y1="656.62" x2="839.3" y2="656.62" stroke="#333" stroke-width="1.5"/>
<line x1="501.4" y1="643.26" x2="514.4" y2="643.26" stroke="#333" stroke-width="1.5"/>
<line x1="852.3" y1="643.26" x2="839.3" y2="643.26" stroke="#333" stroke-width="1.5"/>
<line x1="501.4" y1="629.9" x2="516" y2="629.9" stroke="#333" stroke-width="1.5"/>
<line x1="852.3" y1="629.9" x2="837.7" y2="629.9" stroke="#333" stroke-width="1.5"/>
<line x1="501.4" y1="616.54" x2="514.4" y2="616.54" stroke="#333" stroke-width="1.5"/>
<line x1="852.3" y1="616.54" x2="839.3" y2="616.54" stroke="#333" stroke-width="1.5"/>
<line x1="501.4" y1="603.18" x2="514.4" y2="603.18" stroke="#333" stroke-width="1.5"/>
<line x1="852.3" y1="603.18" x2="839.3" y2="603.18" stroke="#333" stroke-width="1.5"/>
<line x1="501.4" y1="589.82" x2="514.4" y2="589.82" stroke="#333" stroke-width="1.5"/>
<line x1="852.3" y1="589.82" x2="839.3" y2="589.82" stroke="#333" stroke-width="1.5"/>
<line x1="501.4" y1="576.46" x2="514.4" y2="576.46" stroke="#333" stroke-width="1.5"/>
<line x1="852.3" y1="576.46" x2="839.3" y2="576.46" stroke="#333" stroke-width="1.5"/>
<line x1="501.4" y1="563.1" x2="516" y2="563.1" stroke="#333" stroke-width="1.5"/>
<line x1="852.3" y1="563.1" x2="837.7" y2="563.1" stroke="#333" stroke-width="1.5"/>
<line x1="501.4" y1="549.74" x2="514.4" y2="549.74" stroke="#333" stroke-width="1.5"/>
<line x1="852.3" y1="549.74" x2="839.3" y2="549.74" stroke="#333" stroke-width="1.5"/>
<line x1="501.4" y1="536.38" x2="514.4" y2="536.38" stroke="#333" stroke-width="1.5"/>
<line x1="852.3" y1="536.38" x2="839.3" y2="536.38" stroke="#333" stroke-width="1.5"/>
<line x1="501.4" y1="523.02" x2="514.4" y2="523.02" stroke="#333" stroke-width="1.5"/>
<line x1="852.3" y1="523.02" x2="839.3" y2="523.02" stroke="#333" stroke-width="1.5"/>
<line x1="501.4" y1="509.66" x2="514.4" y2="509.66" stroke="#333" stroke-width="1.5"/>
<line x1="852.3" y1="509.66" x2="839.3" y2="509.66" stroke="#333" stroke-width="1.5"/>
<line x1="501.4" y1="496.3" x2="516" y2="496.3" stroke="#333" stroke-width="1.5"/>
<line x1="852.3" y1="496.3" x2="837.7" y2="496.3" stroke="#333" stroke-width="1.5"/>
<line x1="501.4" y1="482.94" x2="514.4" y2="482.94" stroke="#333" stroke-width="1.5"/>
<line x1="852.3" y1="482.94" x2="839.3" y2="482.94" stroke="#333" stroke-width="1.5"/>
<line x1="501.4" y1="469.58" x2="514.4" y2="469.58" stroke="#333" stroke-width="1.5"/>
<line x1="852.3" y1="469.58" x2="839.3" y2="469.58" stroke="#333" stroke-width="1.5"/>
<rect x="501.4" y="455.7" width="350.9" height="348.2" fill="none" stroke="#000" stroke-width="2.25"/>
<text transform="translate(537.18 828)" font-family='"Liberation Sans", sans-serif' font-size="22.5" font-weight="bold" font-style="normal" text-anchor="middle" fill="#000" stroke="#000" stroke-width="0.25" stroke-linejoin="round">–1.0</text>
<text transform="translate(624.64 828)" font-family='"Liberation Sans", sans-serif' font-size="22.5" font-weight="bold" font-style="normal" text-anchor="middle" fill="#000" stroke="#000" stroke-width="0.25" stroke-linejoin="round">–0.5</text>
<text transform="translate(712.1 828)" font-family='"Liberation Sans", sans-serif' font-size="22.5" font-weight="bold" font-style="normal" text-anchor="middle" fill="#000" stroke="#000" stroke-width="0.25" stroke-linejoin="round">0.0</text>
<text transform="translate(799.56 828)" font-family='"Liberation Sans", sans-serif' font-size="22.5" font-weight="bold" font-style="normal" text-anchor="middle" fill="#000" stroke="#000" stroke-width="0.25" stroke-linejoin="round">0.5</text>
<text transform="translate(497.2 772.2) scale(1 1.01)" font-family='"Liberation Sans", sans-serif' font-size="22.5" font-weight="bold" font-style="normal" text-anchor="end" fill="#000" stroke="#000" stroke-width="0.25" stroke-linejoin="round">–2.0</text>
<text transform="translate(497.2 705.4) scale(1 1.01)" font-family='"Liberation Sans", sans-serif' font-size="22.5" font-weight="bold" font-style="normal" text-anchor="end" fill="#000" stroke="#000" stroke-width="0.25" stroke-linejoin="round">–1.5</text>
<text transform="translate(497.2 638.6) scale(1 1.01)" font-family='"Liberation Sans", sans-serif' font-size="22.5" font-weight="bold" font-style="normal" text-anchor="end" fill="#000" stroke="#000" stroke-width="0.25" stroke-linejoin="round">–1.0</text>
<text transform="translate(497.2 571.8) scale(1 1.01)" font-family='"Liberation Sans", sans-serif' font-size="22.5" font-weight="bold" font-style="normal" text-anchor="end" fill="#000" stroke="#000" stroke-width="0.25" stroke-linejoin="round">–0.5</text>
<text transform="translate(497.2 505) scale(1 1.01)" font-family='"Liberation Sans", sans-serif' font-size="22.5" font-weight="bold" font-style="normal" text-anchor="end" fill="#000" stroke="#000" stroke-width="0.25" stroke-linejoin="round">0.0</text>
<text transform="translate(235 411.3)" font-family='"Liberation Sans", sans-serif' font-size="22.6" font-weight="normal" font-style="normal" text-anchor="middle" fill="#000" stroke="#000" stroke-width="0.25" stroke-linejoin="round">F<tspan font-size="17.2" dy="3.8" dx="0">s</tspan><tspan dy="-3.8" dx="0" font-size="22.6">​</tspan></text>
<text transform="translate(675.55 411.7)" font-family='"Liberation Sans", sans-serif' font-size="22.6" font-weight="normal" font-style="normal" text-anchor="middle" fill="#000" stroke="#000" stroke-width="0.25" stroke-linejoin="round">Δ=log(1+δ<tspan font-size="17.2" dy="3.8" dx="-1.8">s</tspan><tspan dy="-3.8" dx="-0.5" font-size="22.6">​</tspan>)</text>
<text transform="translate(234.4 865.3)" font-family='"Liberation Sans", sans-serif' font-size="22.6" font-weight="normal" font-style="normal" text-anchor="middle" fill="#000" stroke="#000" stroke-width="0.25" stroke-linejoin="round">log(1+δ<tspan font-size="17.2" dy="3.8" dx="-1.8">s</tspan><tspan dy="-3.8" dx="-0.5" font-size="22.6">​</tspan>)</text>
<text transform="translate(676.35 865.8)" font-family='"Liberation Sans", sans-serif' font-size="22.6" font-weight="normal" font-style="normal" text-anchor="middle" fill="#000" stroke="#000" stroke-width="0.25" stroke-linejoin="round">log(1+δ<tspan font-size="17.2" dy="3.8" dx="-1.8">s</tspan><tspan dy="-3.8" dx="-0.5" font-size="22.6">​</tspan>)</text>
<text transform="translate(16.8 180.5) rotate(-90)" font-family='"Liberation Sans", sans-serif' font-size="22.6" font-weight="normal" font-style="normal" text-anchor="middle" fill="#000" stroke="#000" stroke-width="0.25" stroke-linejoin="round">P(&lt;F<tspan font-size="17.2" dy="3.8" dx="0">s</tspan><tspan dy="-3.8" dx="0" font-size="22.6">​</tspan>)</text>
<text transform="translate(453.8 180) rotate(-90)" font-family='"Liberation Sans", sans-serif' font-size="22.6" font-weight="normal" font-style="normal" text-anchor="middle" fill="#000" stroke="#000" stroke-width="0.25" stroke-linejoin="round">P(&gt;Δ)</text>
<text transform="translate(17.1 630.6) rotate(-90)" font-family='"Liberation Sans", sans-serif' font-size="22.6" font-weight="normal" font-style="normal" text-anchor="middle" fill="#000" stroke="#000" stroke-width="0.25" stroke-linejoin="round">F<tspan font-size="17.2" dy="3.8" dx="0">s</tspan><tspan dy="-3.8" dx="0" font-size="22.6">​</tspan></text>
<text transform="translate(442.9 630) rotate(-90)" font-family='"Liberation Sans", sans-serif' font-size="22.6" font-weight="normal" font-style="normal" text-anchor="middle" fill="#000" stroke="#000" stroke-width="0.25" stroke-linejoin="round">log τ<tspan font-size="17.2" dy="3.8" dx="0">s</tspan><tspan dy="-3.8" dx="0" font-size="22.6">​</tspan></text>
<text transform="translate(97.6 52.4)" font-family='"Liberation Sans", sans-serif' font-size="22.6" font-weight="normal" font-style="normal" text-anchor="start" fill="#000" stroke="#000" stroke-width="0.25" stroke-linejoin="round">Flux</text>
<text transform="translate(153.4 52.4)" font-family='"Liberation Sans", sans-serif' font-size="22.6" font-weight="normal" font-style="normal" text-anchor="start" fill="#000" stroke="#000" stroke-width="0.25" stroke-linejoin="round">–</text>
<text transform="translate(178.6 52.4)" font-family='"Liberation Sans", sans-serif' font-size="22.6" font-weight="normal" font-style="normal" text-anchor="start" fill="#000" stroke="#000" stroke-width="0.25" stroke-linejoin="round">Real<tspan>–</tspan><tspan>space</tspan></text>
<text transform="translate(679.7 52.1)" font-family='"Liberation Sans", sans-serif' font-size="22.6" font-weight="normal" font-style="normal" text-anchor="start" fill="#000" stroke="#000" stroke-width="0.25" stroke-linejoin="round">Dark matter</text>
<text transform="translate(667.8 83.9)" font-family='"Liberation Sans", sans-serif' font-size="22.6" font-weight="normal" font-style="normal" text-anchor="start" fill="#000" stroke="#000" stroke-width="0.25" stroke-linejoin="round">(σ=0.3 Mpc/h)</text>
<text transform="translate(679.8 130)" font-family='"Liberation Sans", sans-serif' font-size="22.6" font-weight="normal" font-style="normal" text-anchor="start" fill="#000" stroke="#000" stroke-width="0.25" stroke-linejoin="round">Real<tspan>–</tspan><tspan>space</tspan></text>
<text transform="translate(352.2 320.1)" font-family='"Liberation Serif", serif' font-size="33.6" font-weight="normal" font-style="italic" text-anchor="start" fill="#000" stroke="#000" stroke-width="0.3" stroke-linejoin="round">F<tspan font-size="27" dy="11.8" dx="-4.9">s</tspan></text>
<text transform="translate(612.9 320.4)" font-family='"Liberation Serif", serif' font-size="33.6" font-weight="normal" font-style="normal" text-anchor="start" fill="#000" stroke="#000" stroke-width="0.2" stroke-linejoin="round">Δ</text>
<text transform="translate(81 507.5)" font-family='"Liberation Serif", serif' font-size="33.6" font-weight="normal" font-style="italic" text-anchor="start" fill="#000" stroke="#000" stroke-width="0.3" stroke-linejoin="round">F<tspan font-size="27" dy="11.8" dx="-4.9">s</tspan></text>
<text transform="translate(229.3 779.6)" font-family='"Liberation Serif", serif' font-size="33.6" font-weight="normal" font-style="normal" text-anchor="start" fill="#000" stroke="#000" stroke-width="0.2" stroke-linejoin="round">Δ</text>
<text transform="translate(262 493.3)" font-family='"Liberation Sans", sans-serif' font-size="22.6" font-weight="normal" font-style="normal" text-anchor="start" fill="#ff0000" stroke="#ff0000" stroke-width="0.25" stroke-linejoin="round">Real<tspan>–</tspan><tspan>space</tspan></text>
<text transform="translate(238.2 532.8)" font-family='"Liberation Sans", sans-serif' font-size="22.6" font-weight="normal" font-style="normal" text-anchor="start" fill="#0000ff" stroke="#0000ff" stroke-width="0.25" stroke-linejoin="round">Redshift<tspan>–</tspan><tspan>space</tspan></text>
<text transform="translate(537.9 491.8)" font-family='"Liberation Sans", sans-serif' font-size="22.6" font-weight="normal" font-style="normal" text-anchor="start" fill="#ff0000" stroke="#ff0000" stroke-width="0.25" stroke-linejoin="round">Real<tspan>–</tspan><tspan>space</tspan></text>
<text transform="translate(537.9 531.2)" font-family='"Liberation Sans", sans-serif' font-size="22.6" font-weight="normal" font-style="normal" text-anchor="start" fill="#0000ff" stroke="#0000ff" stroke-width="0.25" stroke-linejoin="round">Redshift<tspan>–</tspan><tspan>space</tspan></text>
<text transform="translate(538.1 570.5)" font-family='"Liberation Sans", sans-serif' font-size="22.6" font-weight="normal" font-style="normal" text-anchor="start" fill="#00ff00" stroke="#00ff00" stroke-width="0.25" stroke-linejoin="round">τ<tspan font-size="17.2" dy="3.8" dx="0">s</tspan><tspan dy="-3.8" dx="0" font-size="22.6">​</tspan><tspan dx="0.6">~</tspan><tspan dx="-1.6">(1</tspan><tspan dx="0.5">+δ</tspan><tspan dx="-0.7" font-size="17.2" dy="3.8">s</tspan><tspan dx="-0.9" dy="-3.8">)</tspan><tspan dx="1.5" font-size="16.6" dy="-8.8">1.6</tspan></text>
</svg>
</body></html>
